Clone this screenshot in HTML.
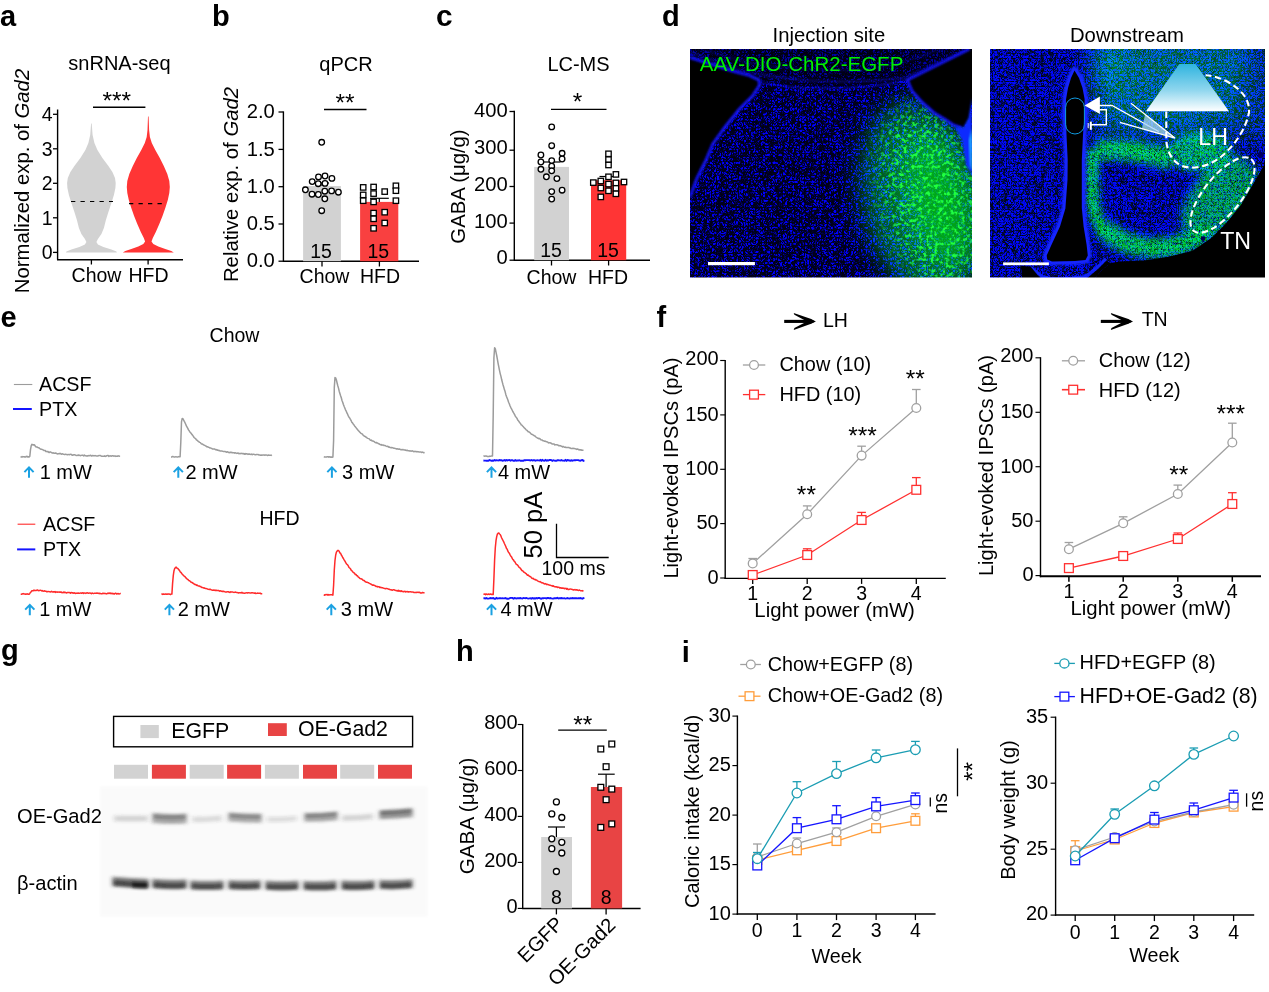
<!DOCTYPE html>
<html><head><meta charset="utf-8"><title>Figure</title>
<style>
html,body{margin:0;padding:0;background:#fff;}
svg{display:block;font-family:'Liberation Sans', sans-serif;}
</style></head><body>
<svg width="1269" height="992" viewBox="0 0 1269 992">
<defs>

<clipPath id="clipL"><rect x="690" y="49" width="282" height="228.6"/></clipPath>
<clipPath id="clipR"><rect x="990" y="49" width="275" height="228.6"/></clipPath>
<filter id="nzL" filterUnits="userSpaceOnUse" x="690" y="49" width="282" height="228.6" color-interpolation-filters="sRGB">
 <feTurbulence type="turbulence" baseFrequency="0.41 0.37" numOctaves="2" seed="7"/>
 <feColorMatrix type="matrix" values="0 0 0 0 0  0 0 0 0 0  1 0 0 0 0  0 0 0 0 1"/>
 <feComponentTransfer><feFuncB type="table" tableValues="0.06 0.09 0.13 0.36 0.8 1 1 1 1 1 1"/></feComponentTransfer>
</filter>
<filter id="nzR" filterUnits="userSpaceOnUse" x="990" y="49" width="275" height="228.6" color-interpolation-filters="sRGB">
 <feTurbulence type="turbulence" baseFrequency="0.43 0.39" numOctaves="2" seed="11"/>
 <feColorMatrix type="matrix" values="0 0 0 0 0  0 0.12 0 0 0  1 0 0 0 0  0 0 0 0 1"/>
 <feComponentTransfer><feFuncB type="table" tableValues="0.06 0.14 0.36 0.8 1 1 1 1 1 1 1"/></feComponentTransfer>
</filter>
<filter id="gspotL" filterUnits="userSpaceOnUse" x="690" y="49" width="282" height="228.6" color-interpolation-filters="sRGB">
 <feTurbulence type="fractalNoise" baseFrequency="0.26" numOctaves="2" seed="5"/>
 <feColorMatrix type="matrix" values="0 0 0 0 0.12  0 0 0 0 1  0 0 0 0 0.25  1 0 0 0 0"/>
 <feComponentTransfer result="sp"><feFuncA type="table" tableValues="0 0 0 0 0 0.02 0.45 1 1 1 1"/></feComponentTransfer>
 <feGaussianBlur in="SourceAlpha" stdDeviation="12" result="m"/>
 <feComposite in="sp" in2="m" operator="in"/>
</filter>
<filter id="gnzR" filterUnits="userSpaceOnUse" x="990" y="49" width="275" height="228.6" color-interpolation-filters="sRGB">
 <feTurbulence type="turbulence" baseFrequency="0.42" numOctaves="2" seed="21"/>
 <feColorMatrix type="matrix" values="0 0 0 0 0  0 0 0 0 0.9  0 0 0 0 0.08  1 0 0 0 0"/>
 <feComponentTransfer result="sp"><feFuncA type="table" tableValues="0.22 0.45 0.85 1 1 1 1 1 1 1 1"/></feComponentTransfer>
 <feGaussianBlur in="SourceAlpha" stdDeviation="4.5" result="m"/>
 <feComposite in="sp" in2="m" operator="in"/>
</filter>
<filter id="gnzR2" filterUnits="userSpaceOnUse" x="990" y="49" width="275" height="228.6" color-interpolation-filters="sRGB">
 <feTurbulence type="turbulence" baseFrequency="0.42" numOctaves="2" seed="33"/>
 <feColorMatrix type="matrix" values="0 0 0 0 0  0 0 0 0 0.9  0 0 0 0 0.08  1 0 0 0 0"/>
 <feComponentTransfer result="sp"><feFuncA type="table" tableValues="0.22 0.45 0.85 1 1 1 1 1 1 1 1"/></feComponentTransfer>
 <feGaussianBlur in="SourceAlpha" stdDeviation="11" result="m"/>
 <feComposite in="sp" in2="m" operator="in"/>
</filter>
<filter id="bl3" x="-20%" y="-20%" width="140%" height="140%"><feGaussianBlur stdDeviation="3"/></filter>
<filter id="bl6" x="-30%" y="-30%" width="160%" height="160%"><feGaussianBlur stdDeviation="7"/></filter>
<filter id="bl12" x="-40%" y="-40%" width="180%" height="180%"><feGaussianBlur stdDeviation="13"/></filter>
<filter id="bl1" x="-20%" y="-20%" width="140%" height="140%"><feGaussianBlur stdDeviation="0.8"/></filter>
<linearGradient id="cone" x1="0" y1="0" x2="0" y2="1"><stop offset="0" stop-color="#2fb4df"/><stop offset="0.55" stop-color="#8fd6ee"/><stop offset="1" stop-color="#ffffff"/></linearGradient>

<filter id="bblur" x="-10%" y="-50%" width="120%" height="200%"><feGaussianBlur stdDeviation="1.6 1.5"/></filter>
<filter id="bblur2" x="-10%" y="-50%" width="120%" height="200%"><feGaussianBlur stdDeviation="2.2 1.8"/></filter>
<filter id="bgblur" x="-5%" y="-5%" width="110%" height="110%"><feGaussianBlur stdDeviation="1.2"/></filter>

</defs>
<rect width="1269" height="992" fill="#fff"/>
<text x="0.0" y="26.0" font-size="29" font-weight="bold">a</text>
<text x="212.0" y="26.0" font-size="29" font-weight="bold">b</text>
<text x="436.0" y="26.2" font-size="29.8" font-weight="bold">c</text>
<text x="119.5" y="70.0" font-size="20" text-anchor="middle">snRNA-seq</text>
<text x="116.8" y="108.5" font-size="24.5" text-anchor="middle">***</text>
<line x1="93.0" y1="107.2" x2="145.4" y2="107.2" stroke="#000" stroke-width="1.5"/>
<line x1="57.6" y1="109.5" x2="57.6" y2="259.6" stroke="#000" stroke-width="1.4"/>
<line x1="57.0" y1="259.8" x2="183.0" y2="259.8" stroke="#000" stroke-width="1.4"/>
<line x1="53.0" y1="114.3" x2="57.6" y2="114.3" stroke="#000" stroke-width="1.3"/>
<text x="52.5" y="121.3" font-size="19.5" text-anchor="end">4</text>
<line x1="53.0" y1="148.8" x2="57.6" y2="148.8" stroke="#000" stroke-width="1.3"/>
<text x="52.5" y="155.8" font-size="19.5" text-anchor="end">3</text>
<line x1="53.0" y1="183.3" x2="57.6" y2="183.3" stroke="#000" stroke-width="1.3"/>
<text x="52.5" y="190.3" font-size="19.5" text-anchor="end">2</text>
<line x1="53.0" y1="217.8" x2="57.6" y2="217.8" stroke="#000" stroke-width="1.3"/>
<text x="52.5" y="224.8" font-size="19.5" text-anchor="end">1</text>
<line x1="53.0" y1="252.4" x2="57.6" y2="252.4" stroke="#000" stroke-width="1.3"/>
<text x="52.5" y="259.4" font-size="19.5" text-anchor="end">0</text>
<line x1="91.4" y1="259.8" x2="91.4" y2="264.5" stroke="#000" stroke-width="1.3"/>
<line x1="148.1" y1="259.8" x2="148.1" y2="264.5" stroke="#000" stroke-width="1.3"/>
<text x="96.5" y="281.5" font-size="19.5" text-anchor="middle">Chow</text>
<text x="148.5" y="281.5" font-size="19.5" text-anchor="middle">HFD</text>
<text x="29.0" y="181.0" font-size="20.3" text-anchor="middle" transform="rotate(-90 29.0 181.0)">Normalized exp. of <tspan font-style="italic">Gad2</tspan></text>
<path d="M91.1,123.5 L90.2,135.0 L88.4,143.0 L85.4,150.0 L80.4,158.0 L74.4,166.0 L70.4,172.0 L67.8,178.0 L67.1,183.0 L67.4,188.0 L68.9,195.0 L71.4,203.0 L74.4,212.0 L76.9,220.0 L78.9,228.0 L81.4,234.0 L84.9,239.0 L86.4,242.0 L84.9,244.5 L79.4,247.0 L71.4,249.5 L66.4,251.5 L65.9,252.5 L116.9,252.5 L116.4,251.5 L111.4,249.5 L103.4,247.0 L97.9,244.5 L96.4,242.0 L97.9,239.0 L101.4,234.0 L103.9,228.0 L105.9,220.0 L108.4,212.0 L111.4,203.0 L113.9,195.0 L115.4,188.0 L115.7,183.0 L115.0,178.0 L112.4,172.0 L108.4,166.0 L102.4,158.0 L97.4,150.0 L94.4,143.0 L92.6,135.0 L91.7,123.5Z" fill="#d2d2d2"/>
<path d="M148.0,116.5 L147.5,130.0 L146.7,137.0 L144.8,143.0 L141.3,150.0 L136.8,158.0 L132.8,166.0 L129.3,174.0 L127.3,181.0 L126.8,187.0 L127.3,193.0 L128.8,200.0 L131.3,208.0 L134.1,216.0 L137.3,224.0 L140.8,232.0 L143.8,238.0 L145.1,241.5 L143.3,244.0 L138.3,246.5 L131.3,249.0 L125.3,251.0 L122.8,252.5 L173.8,252.5 L171.3,251.0 L165.3,249.0 L158.3,246.5 L153.3,244.0 L151.5,241.5 L152.8,238.0 L155.8,232.0 L159.3,224.0 L162.5,216.0 L165.3,208.0 L167.8,200.0 L169.3,193.0 L169.8,187.0 L169.3,181.0 L167.3,174.0 L163.8,166.0 L159.8,158.0 L155.3,150.0 L151.8,143.0 L149.9,137.0 L149.1,130.0 L148.6,116.5Z" fill="#ff3535"/>
<line x1="71.0" y1="201.5" x2="113.0" y2="201.5" stroke="#000" stroke-width="1.1" stroke-dasharray="4.3 5.2"/>
<line x1="129.0" y1="203.6" x2="166.0" y2="203.6" stroke="#000" stroke-width="1.1" stroke-dasharray="4.3 5.2"/>
<text x="346.0" y="71.0" font-size="20" text-anchor="middle">qPCR</text>
<text x="345.0" y="110.5" font-size="24.5" text-anchor="middle">**</text>
<line x1="324.0" y1="109.5" x2="366.5" y2="109.5" stroke="#000" stroke-width="1.3"/>
<line x1="283.4" y1="111.4" x2="283.4" y2="261.8" stroke="#000" stroke-width="1.4"/>
<line x1="283.0" y1="261.2" x2="419.0" y2="261.2" stroke="#000" stroke-width="1.5"/>
<line x1="278.5" y1="112.0" x2="283.4" y2="112.0" stroke="#000" stroke-width="1.3"/>
<text x="274.8" y="118.1" font-size="20.2" text-anchor="end">2.0</text>
<line x1="278.5" y1="149.4" x2="283.4" y2="149.4" stroke="#000" stroke-width="1.3"/>
<text x="274.8" y="155.5" font-size="20.2" text-anchor="end">1.5</text>
<line x1="278.5" y1="186.7" x2="283.4" y2="186.7" stroke="#000" stroke-width="1.3"/>
<text x="274.8" y="192.8" font-size="20.2" text-anchor="end">1.0</text>
<line x1="278.5" y1="224.0" x2="283.4" y2="224.0" stroke="#000" stroke-width="1.3"/>
<text x="274.8" y="230.1" font-size="20.2" text-anchor="end">0.5</text>
<line x1="278.5" y1="261.2" x2="283.4" y2="261.2" stroke="#000" stroke-width="1.3"/>
<text x="274.8" y="267.3" font-size="20.2" text-anchor="end">0.0</text>
<rect x="303.1" y="186.0" width="37.8" height="75.2" fill="#d2d2d2"/>
<rect x="360.1" y="201.9" width="38.2" height="59.3" fill="#f94040"/>
<line x1="322.0" y1="261.2" x2="322.0" y2="266.5" stroke="#000" stroke-width="1.3"/>
<line x1="379.4" y1="261.2" x2="379.4" y2="266.5" stroke="#000" stroke-width="1.3"/>
<text x="321.0" y="258.1" font-size="19.5" text-anchor="middle">15</text>
<text x="378.3" y="258.1" font-size="19.5" text-anchor="middle">15</text>
<text x="324.5" y="283.0" font-size="19.5" text-anchor="middle">Chow</text>
<text x="380.0" y="283.0" font-size="19.5" text-anchor="middle">HFD</text>
<text x="238.0" y="184.5" font-size="20.3" text-anchor="middle" transform="rotate(-90 238.0 184.5)">Relative exp. of <tspan font-style="italic">Gad2</tspan></text>
<line x1="315.0" y1="183.0" x2="329.0" y2="183.0" stroke="#000" stroke-width="1.2"/>
<line x1="322.0" y1="183.0" x2="322.0" y2="186.0" stroke="#000" stroke-width="1.2"/>
<line x1="370.0" y1="198.3" x2="388.8" y2="198.3" stroke="#000" stroke-width="1.2"/>
<line x1="379.3" y1="198.3" x2="379.3" y2="202.0" stroke="#000" stroke-width="1.2"/>
<circle cx="321.7" cy="142.3" r="2.8" fill="#fff" stroke="#000" stroke-width="1.3"/>
<circle cx="318.5" cy="176.9" r="2.8" fill="#fff" stroke="#000" stroke-width="1.3"/>
<circle cx="325.0" cy="176.0" r="2.8" fill="#fff" stroke="#000" stroke-width="1.3"/>
<circle cx="331.9" cy="178.4" r="2.8" fill="#fff" stroke="#000" stroke-width="1.3"/>
<circle cx="312.2" cy="181.6" r="2.8" fill="#fff" stroke="#000" stroke-width="1.3"/>
<circle cx="318.2" cy="183.7" r="2.8" fill="#fff" stroke="#000" stroke-width="1.3"/>
<circle cx="325.0" cy="183.4" r="2.8" fill="#fff" stroke="#000" stroke-width="1.3"/>
<circle cx="305.4" cy="189.8" r="2.8" fill="#fff" stroke="#000" stroke-width="1.3"/>
<circle cx="312.0" cy="194.2" r="2.8" fill="#fff" stroke="#000" stroke-width="1.3"/>
<circle cx="318.3" cy="194.5" r="2.8" fill="#fff" stroke="#000" stroke-width="1.3"/>
<circle cx="324.8" cy="191.2" r="2.8" fill="#fff" stroke="#000" stroke-width="1.3"/>
<circle cx="331.6" cy="190.9" r="2.8" fill="#fff" stroke="#000" stroke-width="1.3"/>
<circle cx="338.4" cy="192.2" r="2.8" fill="#fff" stroke="#000" stroke-width="1.3"/>
<circle cx="324.8" cy="198.8" r="2.8" fill="#fff" stroke="#000" stroke-width="1.3"/>
<circle cx="321.7" cy="210.7" r="2.8" fill="#fff" stroke="#000" stroke-width="1.3"/>
<rect x="360.5" y="184.7" width="5.4" height="5.4" fill="#fff" stroke="#000" stroke-width="1.3"/>
<rect x="370.9" y="184.3" width="5.4" height="5.4" fill="#fff" stroke="#000" stroke-width="1.3"/>
<rect x="393.2" y="183.1" width="5.4" height="5.4" fill="#fff" stroke="#000" stroke-width="1.3"/>
<rect x="382.0" y="188.9" width="5.4" height="5.4" fill="#fff" stroke="#000" stroke-width="1.3"/>
<rect x="360.5" y="192.2" width="5.4" height="5.4" fill="#fff" stroke="#000" stroke-width="1.3"/>
<rect x="370.9" y="190.9" width="5.4" height="5.4" fill="#fff" stroke="#000" stroke-width="1.3"/>
<rect x="393.2" y="188.0" width="5.4" height="5.4" fill="#fff" stroke="#000" stroke-width="1.3"/>
<rect x="360.5" y="198.0" width="5.4" height="5.4" fill="#fff" stroke="#000" stroke-width="1.3"/>
<rect x="370.9" y="199.2" width="5.4" height="5.4" fill="#fff" stroke="#000" stroke-width="1.3"/>
<rect x="393.2" y="198.0" width="5.4" height="5.4" fill="#fff" stroke="#000" stroke-width="1.3"/>
<rect x="370.9" y="210.4" width="5.4" height="5.4" fill="#fff" stroke="#000" stroke-width="1.3"/>
<rect x="382.0" y="209.5" width="5.4" height="5.4" fill="#fff" stroke="#000" stroke-width="1.3"/>
<rect x="370.9" y="216.1" width="5.4" height="5.4" fill="#fff" stroke="#000" stroke-width="1.3"/>
<rect x="382.0" y="220.3" width="5.4" height="5.4" fill="#fff" stroke="#000" stroke-width="1.3"/>
<rect x="370.9" y="225.6" width="5.4" height="5.4" fill="#fff" stroke="#000" stroke-width="1.3"/>
<text x="578.5" y="71.3" font-size="20" text-anchor="middle">LC-MS</text>
<text x="577.5" y="109.5" font-size="24.5" text-anchor="middle">*</text>
<line x1="551.0" y1="109.4" x2="606.5" y2="109.4" stroke="#000" stroke-width="1.3"/>
<line x1="514.3" y1="110.7" x2="514.3" y2="260.8" stroke="#000" stroke-width="1.4"/>
<line x1="514.0" y1="260.2" x2="650.0" y2="260.2" stroke="#000" stroke-width="1.5"/>
<line x1="509.5" y1="111.5" x2="514.3" y2="111.5" stroke="#000" stroke-width="1.3"/>
<text x="507.8" y="117.3" font-size="20.2" text-anchor="end">400</text>
<line x1="509.5" y1="150.2" x2="514.3" y2="150.2" stroke="#000" stroke-width="1.3"/>
<text x="507.8" y="153.8" font-size="20.2" text-anchor="end">300</text>
<line x1="509.5" y1="186.5" x2="514.3" y2="186.5" stroke="#000" stroke-width="1.3"/>
<text x="507.8" y="190.7" font-size="20.2" text-anchor="end">200</text>
<line x1="509.5" y1="223.1" x2="514.3" y2="223.1" stroke="#000" stroke-width="1.3"/>
<text x="507.8" y="228.0" font-size="20.2" text-anchor="end">100</text>
<line x1="509.5" y1="260.2" x2="514.3" y2="260.2" stroke="#000" stroke-width="1.3"/>
<text x="507.8" y="263.5" font-size="20.2" text-anchor="end">0</text>
<rect x="534.2" y="166.9" width="34.8" height="93.3" fill="#d2d2d2"/>
<rect x="591.0" y="180.2" width="35.2" height="80.0" fill="#ff3535"/>
<line x1="551.5" y1="260.2" x2="551.5" y2="265.5" stroke="#000" stroke-width="1.3"/>
<line x1="608.6" y1="260.2" x2="608.6" y2="265.5" stroke="#000" stroke-width="1.3"/>
<text x="551.0" y="257.0" font-size="19.5" text-anchor="middle">15</text>
<text x="608.0" y="257.0" font-size="19.5" text-anchor="middle">15</text>
<text x="551.5" y="283.5" font-size="19.5" text-anchor="middle">Chow</text>
<text x="608.0" y="283.5" font-size="19.5" text-anchor="middle">HFD</text>
<text x="464.7" y="186.5" font-size="20.3" text-anchor="middle" transform="rotate(-90 464.7 186.5)">GABA (μg/g)</text>
<line x1="543.6" y1="162.0" x2="560.5" y2="162.0" stroke="#000" stroke-width="1.2"/>
<line x1="551.7" y1="162.0" x2="551.7" y2="167.0" stroke="#000" stroke-width="1.2"/>
<circle cx="551.7" cy="126.9" r="2.8" fill="#fff" stroke="#000" stroke-width="1.3"/>
<circle cx="551.7" cy="145.7" r="2.8" fill="#fff" stroke="#000" stroke-width="1.3"/>
<circle cx="540.9" cy="155.0" r="2.8" fill="#fff" stroke="#000" stroke-width="1.3"/>
<circle cx="562.1" cy="153.3" r="2.8" fill="#fff" stroke="#000" stroke-width="1.3"/>
<circle cx="562.1" cy="159.0" r="2.8" fill="#fff" stroke="#000" stroke-width="1.3"/>
<circle cx="540.9" cy="162.0" r="2.8" fill="#fff" stroke="#000" stroke-width="1.3"/>
<circle cx="551.7" cy="160.6" r="2.8" fill="#fff" stroke="#000" stroke-width="1.3"/>
<circle cx="551.7" cy="166.2" r="2.8" fill="#fff" stroke="#000" stroke-width="1.3"/>
<circle cx="540.9" cy="169.3" r="2.8" fill="#fff" stroke="#000" stroke-width="1.3"/>
<circle cx="551.7" cy="170.8" r="2.8" fill="#fff" stroke="#000" stroke-width="1.3"/>
<circle cx="546.4" cy="176.8" r="2.8" fill="#fff" stroke="#000" stroke-width="1.3"/>
<circle cx="556.9" cy="178.6" r="2.8" fill="#fff" stroke="#000" stroke-width="1.3"/>
<circle cx="551.7" cy="191.6" r="2.8" fill="#fff" stroke="#000" stroke-width="1.3"/>
<circle cx="562.1" cy="190.2" r="2.8" fill="#fff" stroke="#000" stroke-width="1.3"/>
<circle cx="551.7" cy="199.1" r="2.8" fill="#fff" stroke="#000" stroke-width="1.3"/>
<line x1="599.5" y1="176.5" x2="617.0" y2="176.5" stroke="#000" stroke-width="1.2"/>
<line x1="608.5" y1="176.5" x2="608.5" y2="180.0" stroke="#000" stroke-width="1.2"/>
<rect x="605.8" y="151.1" width="5.4" height="5.4" fill="#fff" stroke="#000" stroke-width="1.3"/>
<rect x="605.8" y="156.9" width="5.4" height="5.4" fill="#fff" stroke="#000" stroke-width="1.3"/>
<rect x="605.8" y="162.3" width="5.4" height="5.4" fill="#fff" stroke="#000" stroke-width="1.3"/>
<rect x="613.2" y="171.7" width="5.4" height="5.4" fill="#fff" stroke="#000" stroke-width="1.3"/>
<rect x="605.8" y="174.1" width="5.4" height="5.4" fill="#fff" stroke="#000" stroke-width="1.3"/>
<rect x="590.6" y="179.9" width="5.4" height="5.4" fill="#fff" stroke="#000" stroke-width="1.3"/>
<rect x="598.1" y="178.3" width="5.4" height="5.4" fill="#fff" stroke="#000" stroke-width="1.3"/>
<rect x="605.8" y="181.4" width="5.4" height="5.4" fill="#fff" stroke="#000" stroke-width="1.3"/>
<rect x="613.2" y="180.2" width="5.4" height="5.4" fill="#fff" stroke="#000" stroke-width="1.3"/>
<rect x="621.3" y="179.3" width="5.4" height="5.4" fill="#fff" stroke="#000" stroke-width="1.3"/>
<rect x="598.1" y="185.3" width="5.4" height="5.4" fill="#fff" stroke="#000" stroke-width="1.3"/>
<rect x="605.8" y="188.1" width="5.4" height="5.4" fill="#fff" stroke="#000" stroke-width="1.3"/>
<rect x="613.2" y="185.7" width="5.4" height="5.4" fill="#fff" stroke="#000" stroke-width="1.3"/>
<rect x="613.2" y="191.1" width="5.4" height="5.4" fill="#fff" stroke="#000" stroke-width="1.3"/>
<rect x="598.1" y="194.2" width="5.4" height="5.4" fill="#fff" stroke="#000" stroke-width="1.3"/>
<text x="662.0" y="26.0" font-size="29" font-weight="bold">d</text>
<text x="828.9" y="41.5" font-size="20.3" text-anchor="middle">Injection site</text>
<text x="1126.9" y="41.5" font-size="20.3" text-anchor="middle">Downstream</text>
<g clip-path="url(#clipL)" style="isolation:isolate">
<rect x="690.0" y="49.0" width="282.0" height="228.6" fill="#000"/>
<rect x="690.0" y="49.0" width="282.0" height="228.6" fill="#000" filter="url(#nzL)"/>
<path d="M690,52 L733,68 Q760,76 800,80 Q850,84 905,78 L968,49" fill="none" stroke="#1a1aff" stroke-width="2.2" opacity="0.55" filter="url(#bl1)"/>
<path d="M700,49 L745,62 Q800,72 860,70 Q900,66 940,49" fill="none" stroke="#1a1aff" stroke-width="2" opacity="0.35" filter="url(#bl1)"/>
<path d="M759,82 Q800,90 835,88 Q875,88 907,80" fill="none" stroke="#1010e0" stroke-width="2" opacity="0.5" filter="url(#bl1)"/>
<path d="M690,49 L972,49 L972,49 L907,80 Q835,92 759,82 L690,57 Z" fill="#000" opacity="0.35"/>
<ellipse cx="942" cy="204" rx="22" ry="60" fill="#002a00" opacity="0.8" filter="url(#bl12)" transform="rotate(-13 942 204)"/>
<g style="mix-blend-mode:screen">
<ellipse cx="925" cy="200" rx="62" ry="100" fill="#007008" opacity="0.85" filter="url(#bl12)" transform="rotate(-12 925 200)"/>
<ellipse cx="936" cy="200" rx="32" ry="70" fill="#00b016" opacity="0.75" filter="url(#bl12)" transform="rotate(-14 936 200)"/>
</g>
<g filter="url(#gspotL)"><ellipse cx="930" cy="198" rx="48" ry="92" fill="#fff" transform="rotate(-13 930 198)"/></g>
<path d="M690,57.5 L733.4,71.3 L748,75 L758.8,79.8 L759.6,85 L752.7,95.8 L739.4,109 L725,127 L712.8,144 L705.6,161 L697,178 L689,199 L680,199 L680,57 Z" fill="#000"/>
<path d="M690,57.5 L733.4,71.3 L748,75 L758.8,79.8 L759.6,85 L752.7,95.8 L739.4,109 L725,127 L712.8,144 L705.6,161 L697,178 L690,197" fill="none" stroke="#1414ff" stroke-width="3" opacity="0.95" filter="url(#bl1)"/>
<path d="M969.5,49 L980,49 L980,100 L972,100 L969,117.6 L964,127 L953,124.8 L946,120 L933.9,112.7 L921.8,101.9 L912,91 L907.3,80 Z" fill="#000"/>
<path d="M969.5,49 L907.3,80 L912,91 L921.8,101.9 L933.9,112.7 L946,120 L953,124.8 L962,128" fill="none" stroke="#1414ff" stroke-width="3" opacity="0.95" filter="url(#bl1)"/>
<path d="M972,98 L968.5,118 L963,128 L955,127 L962,140 L966,165 L972,175 Z" fill="#0a2cff" filter="url(#bl1)"/>
<path d="M972,128 L969,140 L970,165 L972,170 Z" fill="#20b0ff" filter="url(#bl1)"/>
</g>
<text x="699.8" y="70.8" font-size="20.5" fill="#00f000">AAV-DIO-ChR2-EGFP</text>
<rect x="708.0" y="262.0" width="46.9" height="3.2" fill="#fff"/>
<g clip-path="url(#clipR)" style="isolation:isolate">
<rect x="990.0" y="49.0" width="275.0" height="228.6" fill="#000"/>
<rect x="990.0" y="49.0" width="275.0" height="228.6" fill="#000" filter="url(#nzR)"/>
<g opacity="0.42" filter="url(#bl3)" fill="#000" stroke="#000">
<path d="M1091.5,150 L1092.5,198 Q1094,222 1108,234" stroke-width="10" fill="none"/>
<path d="M1097,150 Q1130,147 1172,160 M1104,228 Q1116,242 1142,247 Q1168,251 1192,241 L1206,234" stroke-width="17" fill="none"/>
<ellipse cx="1218" cy="198" rx="46" ry="24" transform="rotate(-51.5 1218 198)" stroke="none" opacity="0.8"/>
<ellipse cx="1200" cy="152" rx="28" ry="16" stroke="none" opacity="0.7"/>
</g>
<g style="mix-blend-mode:screen"><rect x="1095" y="40" width="180" height="100" filter="url(#bl12)" fill="#004a06" opacity="0.7"/></g>
<g style="mix-blend-mode:screen"><g filter="url(#gnzR)">
<path d="M1091.5,150 L1092.5,198 Q1094,222 1108,234" stroke-width="12" fill="none" stroke="#fff"/>
<path d="M1097,150 Q1130,147 1172,160 M1104,228 Q1116,242 1142,247 Q1168,251 1192,241 L1206,234" stroke-width="20" fill="none" stroke="#fff" opacity="0.9"/>
<ellipse cx="1218" cy="198" rx="48" ry="27" transform="rotate(-51.5 1218 198)" fill="#fff" opacity="0.72"/>
<path d="M1262,170 L1250,192 L1236,212 L1220,230 L1205,240" fill="none" stroke="#fff" stroke-width="7" opacity="0.5"/>
<ellipse cx="1200" cy="152" rx="32" ry="20" fill="#fff" opacity="0.8"/>
</g></g>
<g style="mix-blend-mode:screen"><g filter="url(#gnzR2)"><path d="M1092,30 L1250,30 L1235,120 L1170,135 L1098,128 Z" fill="#fff" opacity="0.3"/><ellipse cx="1108" cy="66" rx="14" ry="30" fill="#fff" opacity="0.3"/></g></g>
<path d="M1074.5,70.5 L1079,78 L1082.5,88 L1084.6,99 L1084.4,115 L1083,135 L1081.8,160 L1081.8,208 L1083.6,226.5 L1086.6,244.7 L1087.8,255.6 L1085.5,260 L1075,261 L1052,261.6 L1047.2,259.5 L1046.7,255.6 L1051.5,244.7 L1060,226.5 L1065.4,208.4 L1067.5,180 L1067.7,160 L1066.5,135 L1065.8,115 L1066,99.4 L1068,88 L1071,78 Z" fill="#000" stroke="#1228ff" stroke-width="7.5" stroke-linejoin="round" filter="url(#bl1)"/>
<path d="M1074.5,70.5 L1079,78 L1082.5,88 L1084.6,99 L1084.4,115 L1083,135 L1081.8,160 L1081.8,208 L1083.6,226.5 L1086.6,244.7 L1087.8,255.6 L1085.5,260 L1075,261 L1052,261.6 L1047.2,259.5 L1046.7,255.6 L1051.5,244.7 L1060,226.5 L1065.4,208.4 L1067.5,180 L1067.7,160 L1066.5,135 L1065.8,115 L1066,99.4 L1068,88 L1071,78 Z" fill="#000"/>
<path d="M1275,150 L1265,163.6 L1253,184.2 L1241,204.8 L1226.4,222.9 L1212,237.4 L1192.6,250.7 L1168.4,256.8 L1144.2,260.4 L1120,261.5 L1110.8,263 L1102,270 L1094,279 L1275,279 Z" fill="#000"/>
<path d="M1106,258.6 Q1096,270 1085,276.5 Q1060,281 1043,277 Q1036,272 1031,267.5" fill="none" stroke="#1428ff" stroke-width="3.2" opacity="0.9"/>
<path d="M1021,265.5 L1031,267 L1040,278 L1022,278 Z" fill="#000"/>
<path d="M1094,279 L1102,270 L1110.8,263 L1106,261 Q1096,272 1086,279 Z" fill="#000"/>
<circle cx="1260.7" cy="155" r="3" fill="#000060"/><circle cx="1203" cy="238.6" r="2.4" fill="#000050"/>
<rect x="1065.6" y="98" width="18.8" height="36" rx="9.4" fill="none" stroke="#109ae0" stroke-width="1"/>
<path d="M1084.6,105.5 L1099.9,96.4 L1099.9,114 Z" fill="#fff"/>
<path d="M1099,105.5 L1112,105.5 L1158.7,131.5" fill="none" stroke="#fff" stroke-width="1.3"/>
<path d="M1099.5,109.7 H1106.3 V124.8 H1090.8" fill="none" stroke="#fff" stroke-width="1.4"/>
<line x1="1090.8" y1="121.6" x2="1090.8" y2="129.8" stroke="#fff" stroke-width="2"/>
<line x1="1088.2" y1="123.0" x2="1088.2" y2="128.2" stroke="#fff" stroke-width="1"/>
<path d="M1145,114.4 L1175,138.1 L1142,128.7 Z" fill="#a8d4f4" opacity="0.75"/>
<path d="M1130.9,103.3 L1175,138.1 L1119.9,122.4" fill="none" stroke="#fff" stroke-width="1.3" stroke-linejoin="miter"/>
<path d="M1179.3,64.1 L1195.6,64.1 L1228.9,111.3 L1146,111.3 Z" fill="url(#cone)"/>
<path d="M1166.3,111.5 L1166.3,138.8 C1166.5,150 1171,160 1180,165 C1192,171 1210,166 1222,156 C1236,144 1246,128 1249,112.5 C1250,100 1242,90 1228,82 C1220,78 1212,75.5 1205.6,75.2" fill="none" stroke="#fff" stroke-width="2.1" stroke-dasharray="6.5 3.6"/>
<ellipse cx="1222.5" cy="195" rx="46" ry="18.5" transform="rotate(-51.5 1222.5 195)" fill="none" stroke="#fff" stroke-width="2.1" stroke-dasharray="6.5 3.6"/>
</g>
<text x="1198.3" y="145.4" font-size="23.2" fill="#fff">LH</text>
<text x="1220.2" y="248.7" font-size="23.2" fill="#fff">TN</text>
<rect x="1003.1" y="262.4" width="45.8" height="2.8" fill="#fff"/>
<text x="0.5" y="327.0" font-size="29" font-weight="bold">e</text>
<text x="234.5" y="341.8" font-size="19.5" text-anchor="middle">Chow</text>
<text x="279.5" y="524.5" font-size="19.5" text-anchor="middle">HFD</text>
<line x1="13.9" y1="384.5" x2="32.3" y2="384.5" stroke="#9c9c9c" stroke-width="1.1"/>
<text x="39.0" y="391.0" font-size="19.7">ACSF</text>
<line x1="13.0" y1="409.0" x2="31.8" y2="409.0" stroke="#1414ff" stroke-width="2"/>
<text x="39.0" y="416.0" font-size="19.7">PTX</text>
<line x1="17.6" y1="524.2" x2="35.3" y2="524.2" stroke="#ff2b2b" stroke-width="1.1"/>
<text x="42.9" y="531.2" font-size="19.7">ACSF</text>
<line x1="17.1" y1="549.4" x2="35.3" y2="549.4" stroke="#1414ff" stroke-width="2"/>
<text x="42.9" y="556.0" font-size="19.7">PTX</text>
<polyline points="20.7,456.4 21.4,457.1 22.1,457.1 22.8,456.6 23.5,456.8 24.2,456.7 24.9,457.0 25.6,457.1 26.3,456.4 27.0,456.3 27.7,457.1 28.4,456.7 29.1,457.1 29.8,456.3 30.5,449.7 31.2,445.9 31.9,444.2 32.6,444.8 33.3,445.1 34.0,444.7 34.7,445.2 35.4,446.2 36.1,447.0 36.8,446.9 37.5,447.2 38.2,447.8 38.9,447.8 39.6,448.4 40.3,448.9 41.0,449.3 41.7,449.3 42.4,449.6 43.1,449.9 43.8,450.4 44.5,450.5 45.2,450.4 45.9,451.5 46.6,451.4 47.3,451.7 48.0,451.4 48.7,452.4 49.4,452.4 50.1,451.8 50.8,452.2 51.5,452.7 52.2,452.8 52.9,453.2 53.6,452.8 54.3,453.3 55.0,453.3 55.7,453.0 56.4,453.4 57.1,453.8 57.8,453.9 58.5,453.6 59.2,453.8 59.9,453.3 60.6,453.6 61.3,454.2 62.0,453.9 62.7,453.8 63.4,454.2 64.1,454.4 64.8,454.5 65.5,454.2 66.2,454.4 66.9,454.5 67.6,454.8 68.3,454.6 69.0,454.5 69.7,454.7 70.4,454.3 71.1,454.3 71.8,455.0 72.5,455.3 73.2,455.0 73.9,454.8 74.6,454.7 75.3,455.0 76.0,455.5 76.7,455.4 77.4,455.2 78.1,455.5 78.8,454.9 79.5,455.3 80.2,455.7 80.9,455.4 81.6,455.3 82.3,455.1 83.0,455.4 83.7,455.9 84.4,455.0 85.1,455.8 85.8,455.8 86.5,455.9 87.2,455.8 87.9,455.9 88.6,455.6 89.3,455.7 90.0,455.6 90.7,455.2 91.4,456.1 92.1,455.8 92.8,455.4 93.5,455.8 94.2,455.8 94.9,455.6 95.6,455.7 96.3,455.9 97.0,456.0 97.7,456.0 98.4,455.8 99.1,455.4 99.8,455.6 100.5,455.6 101.2,456.0 101.9,456.3 102.6,456.3 103.3,456.3 104.0,456.3 104.7,455.8 105.4,456.4 106.1,456.2 106.8,455.7 107.5,455.6 108.2,455.6 108.9,456.4 109.6,455.9 110.3,455.7 111.0,456.3 111.7,456.0 112.4,455.7 113.1,455.8 113.8,456.2 114.5,455.9 115.2,456.0 115.9,456.4 116.6,456.2 117.3,456.1 118.0,456.2 118.7,455.8 119.4,456.2 120.1,456.2" fill="none" stroke="#9c9c9c" stroke-width="1.5" stroke-linejoin="round"/>
<polyline points="171.0,457.1 171.7,457.1 172.4,456.5 173.1,456.5 173.8,457.0 174.5,457.0 175.2,456.9 175.9,456.7 176.6,456.9 177.3,456.9 178.0,456.9 178.7,456.6 179.4,456.8 180.1,456.7 180.8,442.3 181.5,421.8 182.2,418.4 182.9,418.6 183.6,420.0 184.3,421.4 185.0,422.7 185.7,424.2 186.4,425.9 187.1,427.1 187.8,428.4 188.5,429.9 189.2,430.8 189.9,431.9 190.6,432.7 191.3,433.5 192.0,434.6 192.7,435.3 193.4,436.4 194.1,437.5 194.8,438.1 195.5,438.4 196.2,439.6 196.9,440.2 197.6,440.7 198.3,441.4 199.0,441.9 199.7,442.4 200.4,442.6 201.1,443.6 201.8,444.0 202.5,443.9 203.2,444.7 203.9,445.1 204.6,445.3 205.3,445.7 206.0,446.0 206.7,446.7 207.4,446.7 208.1,447.2 208.8,447.2 209.5,447.8 210.2,448.1 210.9,448.1 211.6,448.4 212.3,448.9 213.0,449.0 213.7,449.0 214.4,449.0 215.1,449.3 215.8,449.8 216.5,449.6 217.2,450.3 217.9,450.0 218.6,450.6 219.3,450.4 220.0,451.0 220.7,451.0 221.4,451.0 222.1,451.1 222.8,451.3 223.5,451.4 224.2,451.4 224.9,451.4 225.6,451.7 226.3,452.2 227.0,452.0 227.7,451.8 228.4,452.4 229.1,452.4 229.8,452.7 230.5,452.2 231.2,452.7 231.9,452.3 232.6,452.8 233.3,452.7 234.0,452.7 234.7,453.2 235.4,452.8 236.1,453.1 236.8,453.4 237.5,453.1 238.2,453.1 238.9,453.7 239.6,453.4 240.3,453.7 241.0,453.3 241.7,453.6 242.4,453.5 243.1,453.9 243.8,453.5 244.5,454.2 245.2,453.6 245.9,454.2 246.6,453.7 247.3,453.9 248.0,454.4 248.7,454.0 249.4,454.0 250.1,454.4 250.8,454.3 251.5,454.1 252.2,454.8 252.9,454.2 253.6,454.2 254.3,454.4 255.0,454.7 255.7,454.8 256.4,454.4 257.1,454.6 257.8,454.4 258.5,454.7 259.2,455.0 259.9,455.0 260.6,455.2 261.3,455.1 262.0,455.2 262.7,455.1 263.4,455.0 264.1,454.9 264.8,455.2 265.5,455.0 266.2,454.9 266.9,455.1 267.6,455.5 268.3,455.0 269.0,455.3 269.7,455.2 270.4,455.3 271.1,455.1 271.8,455.7" fill="none" stroke="#9c9c9c" stroke-width="1.5" stroke-linejoin="round"/>
<polyline points="323.8,456.8 324.5,457.0 325.2,456.9 325.9,457.1 326.6,457.1 327.3,456.7 328.0,456.7 328.7,457.2 329.4,456.8 330.1,456.8 330.8,457.3 331.5,457.0 332.2,457.2 332.9,457.0 333.6,440.6 334.3,387.2 335.0,377.6 335.7,377.9 336.4,380.0 337.1,383.0 337.8,385.8 338.5,388.1 339.2,391.2 339.9,393.5 340.6,395.7 341.3,397.7 342.0,400.5 342.7,402.2 343.4,404.4 344.1,406.3 344.8,408.0 345.5,409.8 346.2,411.1 346.9,412.9 347.6,414.2 348.3,415.9 349.0,417.2 349.7,418.0 350.4,419.3 351.1,420.5 351.8,422.2 352.5,422.9 353.2,424.0 353.9,424.8 354.6,425.9 355.3,426.7 356.0,427.6 356.7,428.6 357.4,429.4 358.1,430.4 358.8,431.0 359.5,431.9 360.2,432.5 360.9,433.3 361.6,433.7 362.3,433.9 363.0,435.0 363.7,435.7 364.4,436.2 365.1,436.4 365.8,437.1 366.5,437.2 367.2,438.1 367.9,438.4 368.6,438.6 369.3,438.9 370.0,439.8 370.7,440.3 371.4,440.1 372.1,440.9 372.8,441.0 373.5,441.2 374.2,441.6 374.9,442.3 375.6,442.7 376.3,442.4 377.0,443.1 377.7,443.0 378.4,443.7 379.1,443.7 379.8,444.4 380.5,444.7 381.2,444.6 381.9,445.2 382.6,444.9 383.3,445.0 384.0,445.6 384.7,445.4 385.4,445.7 386.1,446.1 386.8,446.4 387.5,446.3 388.2,446.4 388.9,447.2 389.6,447.0 390.3,447.6 391.0,447.7 391.7,447.5 392.4,447.7 393.1,447.9 393.8,448.2 394.5,448.3 395.2,448.4 395.9,448.6 396.6,449.0 397.3,448.8 398.0,448.9 398.7,449.2 399.4,449.0 400.1,449.2 400.8,449.8 401.5,449.6 402.2,449.7 402.9,449.5 403.6,449.9 404.3,450.1 405.0,449.8 405.7,450.3 406.4,450.5 407.1,450.2 407.8,450.7 408.5,450.7 409.2,450.9 409.9,450.8 410.6,451.1 411.3,451.2 412.0,450.8 412.7,450.9 413.4,451.5 414.1,451.7 414.8,451.3 415.5,451.6 416.2,451.7 416.9,451.6 417.6,451.7 418.3,451.8 419.0,451.9 419.7,452.1 420.4,452.0 421.1,452.1 421.8,452.5 422.5,452.0 423.2,452.5 423.9,452.7 424.6,452.4" fill="none" stroke="#9c9c9c" stroke-width="1.5" stroke-linejoin="round"/>
<polyline points="483.4,456.1 484.1,456.0 484.8,456.2 485.5,456.1 486.2,456.0 486.9,456.2 487.6,456.6 488.3,456.5 489.0,456.5 489.7,456.1 490.4,456.3 491.1,456.1 491.8,456.1 492.5,456.0 493.2,415.5 493.9,358.0 494.6,347.7 495.3,348.6 496.0,352.1 496.7,355.5 497.4,359.4 498.1,363.3 498.8,366.9 499.5,370.3 500.2,373.6 500.9,376.1 501.6,379.3 502.3,382.1 503.0,384.7 503.7,387.0 504.4,389.6 505.1,391.6 505.8,394.4 506.5,396.5 507.2,398.3 507.9,400.0 508.6,402.3 509.3,403.8 510.0,405.7 510.7,407.3 511.4,408.6 512.1,410.0 512.8,411.5 513.5,412.7 514.2,413.8 514.9,415.2 515.6,416.7 516.3,417.3 517.0,418.4 517.7,419.9 518.4,420.7 519.1,421.8 519.8,422.7 520.5,423.5 521.2,424.8 521.9,425.1 522.6,426.0 523.3,426.6 524.0,427.7 524.7,428.2 525.4,428.9 526.1,429.8 526.8,430.2 527.5,430.9 528.2,431.8 528.9,431.8 529.6,432.3 530.3,433.0 531.0,433.9 531.7,434.3 532.4,434.5 533.1,435.0 533.8,435.4 534.5,436.0 535.2,436.1 535.9,437.0 536.6,437.5 537.3,438.0 538.0,438.2 538.7,438.7 539.4,438.4 540.1,438.9 540.8,439.8 541.5,439.9 542.2,440.0 542.9,440.7 543.6,440.8 544.3,441.2 545.0,441.1 545.7,441.3 546.4,441.8 547.1,441.8 547.8,442.2 548.5,442.9 549.2,442.7 549.9,442.7 550.6,443.0 551.3,443.3 552.0,443.9 552.7,443.9 553.4,444.0 554.1,444.1 554.8,444.9 555.5,444.7 556.2,444.8 556.9,444.8 557.6,445.0 558.3,445.3 559.0,445.8 559.7,445.6 560.4,445.7 561.1,446.2 561.8,446.2 562.5,446.9 563.2,446.4 563.9,446.9 564.6,447.2 565.3,447.1 566.0,447.6 566.7,447.4 567.4,447.4 568.1,447.6 568.8,447.5 569.5,447.9 570.2,447.9 570.9,448.5 571.6,448.6 572.3,448.5 573.0,448.3 573.7,448.5 574.4,448.6 575.1,448.7 575.8,448.9 576.5,449.4 577.2,449.0 577.9,449.1 578.6,449.8 579.3,449.6 580.0,450.0 580.7,449.7 581.4,450.2 582.1,450.1 582.8,450.3 583.5,450.3" fill="none" stroke="#9c9c9c" stroke-width="1.5" stroke-linejoin="round"/>
<polyline points="483.4,460.5 484.4,460.6 485.4,460.6 486.4,460.8 487.4,460.6 488.4,460.7 489.4,460.0 490.4,460.4 491.4,460.8 492.4,460.5 493.4,460.7 494.4,460.1 495.4,460.4 496.4,460.2 497.4,460.4 498.4,460.5 499.4,460.0 500.4,460.2 501.4,460.2 502.4,460.7 503.4,460.6 504.4,460.1 505.4,460.6 506.4,460.1 507.4,460.5 508.4,460.1 509.4,460.0 510.4,460.7 511.4,460.2 512.4,460.2 513.4,460.8 514.4,460.7 515.4,460.2 516.4,460.8 517.4,460.4 518.4,460.5 519.4,460.2 520.4,460.8 521.4,460.6 522.4,460.8 523.4,460.7 524.4,460.2 525.4,460.3 526.4,460.1 527.4,460.1 528.4,460.1 529.4,460.2 530.4,460.5 531.4,460.0 532.4,460.5 533.4,460.3 534.4,460.2 535.4,460.7 536.4,460.4 537.4,460.3 538.4,460.4 539.4,460.6 540.4,460.0 541.4,460.8 542.4,460.0 543.4,460.6 544.4,460.7 545.4,460.0 546.4,460.6 547.4,460.3 548.4,460.5 549.4,460.0 550.4,460.0 551.4,460.1 552.4,460.8 553.4,460.2 554.4,460.6 555.4,460.7 556.4,460.8 557.4,460.3 558.4,460.3 559.4,460.4 560.4,460.6 561.4,460.1 562.4,460.6 563.4,460.6 564.4,460.7 565.4,460.0 566.4,460.8 567.4,460.1 568.4,460.3 569.4,460.5 570.4,460.7 571.4,460.3 572.4,460.7 573.4,460.4 574.4,460.2 575.4,460.3 576.4,460.1 577.4,460.1 578.4,460.1 579.4,460.6 580.4,460.8 581.4,460.1 582.4,460.0 583.4,460.8 584.4,460.4" fill="none" stroke="#1414ff" stroke-width="1.9"/>
<polyline points="20.7,594.3 21.4,594.3 22.1,594.0 22.8,593.8 23.5,593.6 24.2,594.1 24.9,594.0 25.6,594.2 26.3,593.9 27.0,594.2 27.7,593.8 28.4,594.3 29.1,594.2 29.8,593.4 30.5,592.4 31.2,591.8 31.9,590.8 32.6,590.8 33.3,590.8 34.0,590.1 34.7,590.5 35.4,590.4 36.1,590.5 36.8,590.1 37.5,589.9 38.2,590.6 38.9,590.7 39.6,590.4 40.3,590.2 41.0,590.4 41.7,590.9 42.4,590.6 43.1,591.3 43.8,591.1 44.5,590.8 45.2,591.3 45.9,591.1 46.6,591.7 47.3,591.7 48.0,591.4 48.7,591.6 49.4,591.7 50.1,591.9 50.8,592.1 51.5,591.3 52.2,591.7 52.9,592.0 53.6,591.7 54.3,592.0 55.0,591.6 55.7,592.4 56.4,592.1 57.1,591.8 57.8,592.3 58.5,592.1 59.2,592.0 59.9,592.3 60.6,592.0 61.3,592.1 62.0,592.8 62.7,592.6 63.4,592.1 64.1,592.8 64.8,592.1 65.5,592.4 66.2,593.0 66.9,592.7 67.6,592.5 68.3,592.6 69.0,592.6 69.7,592.4 70.4,593.2 71.1,592.4 71.8,592.7 72.5,593.1 73.2,592.8 73.9,593.3 74.6,592.7 75.3,593.4 76.0,593.3 76.7,593.1 77.4,593.3 78.1,593.0 78.8,593.3 79.5,593.3 80.2,593.1 80.9,593.0 81.6,593.3 82.3,593.0 83.0,592.7 83.7,593.4 84.4,592.9 85.1,593.1 85.8,593.4 86.5,592.9 87.2,592.8 87.9,592.9 88.6,593.3 89.3,593.1 90.0,593.0 90.7,593.2 91.4,593.7 92.1,593.1 92.8,593.2 93.5,593.6 94.2,593.4 94.9,593.1 95.6,593.3 96.3,593.3 97.0,593.0 97.7,593.3 98.4,593.2 99.1,593.7 99.8,593.2 100.5,593.6 101.2,593.8 101.9,593.8 102.6,593.3 103.3,593.5 104.0,593.3 104.7,593.4 105.4,593.5 106.1,593.7 106.8,593.9 107.5,593.3 108.2,593.1 108.9,593.5 109.6,593.1 110.3,593.1 111.0,593.8 111.7,593.2 112.4,593.7 113.1,593.4 113.8,593.9 114.5,593.9 115.2,593.2 115.9,593.3 116.6,594.0 117.3,593.7 118.0,593.5 118.7,593.9 119.4,593.9 120.1,593.6 120.8,593.6" fill="none" stroke="#ff2b2b" stroke-width="1.5" stroke-linejoin="round"/>
<polyline points="161.4,594.2 162.1,594.0 162.8,594.4 163.5,594.0 164.2,594.3 164.9,594.2 165.6,593.9 166.3,594.3 167.0,593.9 167.7,594.2 168.4,594.0 169.1,594.0 169.8,594.2 170.5,594.6 171.2,594.0 171.9,594.1 172.6,583.1 173.3,575.4 174.0,570.7 174.7,568.4 175.4,567.9 176.1,567.1 176.8,568.1 177.5,568.2 178.2,568.9 178.9,569.7 179.6,570.7 180.3,572.0 181.0,572.4 181.7,573.5 182.4,574.4 183.1,575.0 183.8,575.9 184.5,576.2 185.2,576.9 185.9,577.7 186.6,578.7 187.3,579.1 188.0,579.6 188.7,580.3 189.4,580.8 190.1,581.1 190.8,582.0 191.5,582.4 192.2,582.5 192.9,583.2 193.6,583.5 194.3,584.2 195.0,584.5 195.7,584.5 196.4,585.4 197.1,585.0 197.8,585.6 198.5,586.1 199.2,585.9 199.9,586.5 200.6,586.4 201.3,587.1 202.0,587.5 202.7,587.5 203.4,588.0 204.1,587.8 204.8,588.3 205.5,588.4 206.2,588.6 206.9,588.7 207.6,589.1 208.3,589.4 209.0,589.2 209.7,589.5 210.4,589.2 211.1,589.8 211.8,589.9 212.5,590.3 213.2,590.3 213.9,590.0 214.6,590.2 215.3,590.5 216.0,590.1 216.7,590.6 217.4,590.5 218.1,590.5 218.8,590.6 219.5,591.2 220.2,590.8 220.9,591.0 221.6,591.2 222.3,591.6 223.0,591.1 223.7,591.5 224.4,591.6 225.1,591.9 225.8,592.0 226.5,592.1 227.2,591.7 227.9,591.8 228.6,591.8 229.3,592.3 230.0,592.4 230.7,591.8 231.4,591.9 232.1,592.0 232.8,592.1 233.5,592.3 234.2,592.4 234.9,592.2 235.6,592.1 236.3,592.4 237.0,592.4 237.7,592.6 238.4,593.0 239.1,592.8 239.8,592.7 240.5,592.8 241.2,592.9 241.9,592.4 242.6,593.1 243.3,593.1 244.0,593.2 244.7,593.2 245.4,592.9 246.1,592.9 246.8,592.7 247.5,593.1 248.2,592.7 248.9,592.7 249.6,592.9 250.3,592.9 251.0,593.0 251.7,592.8 252.4,592.8 253.1,592.9 253.8,592.9 254.5,593.2 255.2,592.9 255.9,593.6 256.6,593.4 257.3,593.1 258.0,593.2 258.7,593.3 259.4,593.3 260.1,593.1 260.8,593.7 261.5,593.8 262.2,593.4" fill="none" stroke="#ff2b2b" stroke-width="1.5" stroke-linejoin="round"/>
<polyline points="323.8,594.6 324.5,595.2 325.2,594.5 325.9,595.0 326.6,594.5 327.3,594.6 328.0,595.2 328.7,594.6 329.4,594.9 330.1,594.8 330.8,594.8 331.5,594.8 332.2,594.6 332.9,595.1 333.6,585.2 334.3,569.9 335.0,560.3 335.7,555.0 336.4,552.1 337.1,551.1 337.8,550.4 338.5,550.5 339.2,551.4 339.9,553.0 340.6,553.3 341.3,555.0 342.0,556.0 342.7,557.5 343.4,558.5 344.1,559.9 344.8,560.9 345.5,562.2 346.2,563.5 346.9,564.3 347.6,564.9 348.3,565.9 349.0,567.5 349.7,568.0 350.4,568.7 351.1,570.1 351.8,570.6 352.5,571.5 353.2,572.4 353.9,572.7 354.6,573.4 355.3,574.5 356.0,574.5 356.7,575.7 357.4,575.7 358.1,576.8 358.8,577.3 359.5,578.1 360.2,578.5 360.9,578.7 361.6,579.0 362.3,579.4 363.0,580.1 363.7,580.6 364.4,580.6 365.1,581.7 365.8,581.8 366.5,582.3 367.2,582.3 367.9,582.6 368.6,582.8 369.3,583.4 370.0,583.6 370.7,584.1 371.4,584.3 372.1,585.0 372.8,585.3 373.5,585.0 374.2,585.4 374.9,585.5 375.6,586.1 376.3,586.6 377.0,586.2 377.7,586.9 378.4,586.7 379.1,586.7 379.8,587.5 380.5,587.3 381.2,587.4 381.9,587.8 382.6,587.8 383.3,588.1 384.0,588.3 384.7,588.4 385.4,588.7 386.1,588.6 386.8,588.6 387.5,588.7 388.2,588.9 388.9,589.3 389.6,589.3 390.3,589.8 391.0,589.7 391.7,590.0 392.4,590.3 393.1,589.7 393.8,589.8 394.5,590.0 395.2,590.3 395.9,590.5 396.6,590.7 397.3,590.5 398.0,591.1 398.7,590.4 399.4,591.2 400.1,590.8 400.8,591.4 401.5,590.8 402.2,591.6 402.9,591.5 403.6,591.8 404.3,591.5 405.0,591.3 405.7,592.0 406.4,591.6 407.1,591.4 407.8,591.9 408.5,591.8 409.2,591.9 409.9,591.7 410.6,591.7 411.3,592.1 412.0,592.1 412.7,591.9 413.4,592.2 414.1,592.5 414.8,592.5 415.5,592.4 416.2,592.3 416.9,592.4 417.6,592.3 418.3,592.3 419.0,592.6 419.7,592.3 420.4,592.9 421.1,592.9 421.8,592.9 422.5,592.4 423.2,592.7 423.9,592.8 424.6,592.6" fill="none" stroke="#ff2b2b" stroke-width="1.5" stroke-linejoin="round"/>
<polyline points="483.4,594.3 484.1,594.2 484.8,594.0 485.5,594.6 486.2,593.9 486.9,594.3 487.6,594.6 488.3,594.0 489.0,594.3 489.7,594.4 490.4,593.9 491.1,594.2 491.8,594.5 492.5,594.3 493.2,594.5 493.9,578.9 494.6,560.1 495.3,547.8 496.0,540.7 496.7,536.6 497.4,534.0 498.1,533.3 498.8,533.0 499.5,534.0 500.2,534.5 500.9,535.9 501.6,537.7 502.3,539.2 503.0,540.5 503.7,541.8 504.4,543.5 505.1,545.0 505.8,546.5 506.5,548.4 507.2,549.3 507.9,551.2 508.6,552.5 509.3,553.1 510.0,554.6 510.7,555.9 511.4,556.7 512.1,558.1 512.8,559.5 513.5,559.9 514.2,561.3 514.9,561.9 515.6,563.2 516.3,564.3 517.0,564.6 517.7,565.3 518.4,566.2 519.1,567.3 519.8,567.7 520.5,568.5 521.2,569.5 521.9,570.5 522.6,570.8 523.3,571.4 524.0,572.2 524.7,572.4 525.4,573.3 526.1,573.6 526.8,574.4 527.5,575.2 528.2,575.0 528.9,575.9 529.6,576.4 530.3,576.5 531.0,577.1 531.7,578.1 532.4,578.5 533.1,578.2 533.8,579.1 534.5,579.6 535.2,579.4 535.9,580.1 536.6,580.0 537.3,580.6 538.0,581.1 538.7,581.4 539.4,581.8 540.1,581.6 540.8,582.1 541.5,582.8 542.2,582.8 542.9,583.0 543.6,583.2 544.3,583.9 545.0,583.8 545.7,583.6 546.4,584.5 547.1,584.3 547.8,584.6 548.5,584.7 549.2,585.1 549.9,585.2 550.6,585.2 551.3,585.8 552.0,585.6 552.7,586.3 553.4,585.8 554.1,586.6 554.8,586.8 555.5,586.7 556.2,587.0 556.9,586.8 557.6,587.4 558.3,587.3 559.0,587.2 559.7,588.0 560.4,587.7 561.1,587.8 561.8,588.3 562.5,588.0 563.2,588.4 563.9,588.1 564.6,588.7 565.3,588.4 566.0,588.3 566.7,589.2 567.4,588.6 568.1,589.4 568.8,589.5 569.5,589.3 570.2,588.9 570.9,589.1 571.6,589.3 572.3,589.5 573.0,589.8 573.7,590.1 574.4,589.7 575.1,589.6 575.8,590.1 576.5,589.8 577.2,589.8 577.9,590.3 578.6,590.5 579.3,590.0 580.0,590.4 580.7,590.7 581.4,590.8 582.1,590.6 582.8,591.0 583.5,590.5" fill="none" stroke="#ff2b2b" stroke-width="1.5" stroke-linejoin="round"/>
<polyline points="483.4,598.4 484.4,598.2 485.4,598.4 486.4,598.1 487.4,598.6 488.4,598.6 489.4,598.4 490.4,598.0 491.4,598.3 492.4,598.2 493.4,598.1 494.4,598.7 495.4,598.7 496.4,597.9 497.4,598.6 498.4,598.4 499.4,598.2 500.4,598.1 501.4,598.4 502.4,598.3 503.4,598.4 504.4,598.4 505.4,598.0 506.4,598.5 507.4,598.7 508.4,598.7 509.4,598.4 510.4,597.9 511.4,597.9 512.4,598.0 513.4,598.7 514.4,598.1 515.4,598.2 516.4,598.6 517.4,598.2 518.4,598.3 519.4,598.2 520.4,598.0 521.4,598.4 522.4,598.6 523.4,598.0 524.4,598.1 525.4,598.2 526.4,597.9 527.4,598.3 528.4,598.6 529.4,598.4 530.4,598.3 531.4,598.6 532.4,598.0 533.4,598.4 534.4,598.2 535.4,598.4 536.4,598.0 537.4,598.5 538.4,598.0 539.4,598.0 540.4,598.5 541.4,598.7 542.4,598.2 543.4,598.2 544.4,598.1 545.4,598.1 546.4,598.4 547.4,598.0 548.4,598.0 549.4,598.3 550.4,598.0 551.4,598.4 552.4,598.6 553.4,598.5 554.4,598.3 555.4,598.2 556.4,598.2 557.4,597.9 558.4,598.5 559.4,598.2 560.4,598.2 561.4,598.0 562.4,598.3 563.4,598.4 564.4,598.2 565.4,598.6 566.4,598.4 567.4,598.1 568.4,598.3 569.4,598.6 570.4,598.3 571.4,598.4 572.4,598.0 573.4,598.3 574.4,598.3 575.4,598.2 576.4,598.2 577.4,598.4 578.4,598.3 579.4,598.3 580.4,598.0 581.4,598.3 582.4,598.7 583.4,598.2 584.4,597.9" fill="none" stroke="#1414ff" stroke-width="1.9"/>
<path d="M29.0,477.8 L29.0,467.7 M24.4,472.1 L29.0,467.4 L33.6,472.1" fill="none" stroke="#1ba1e2" stroke-width="2" stroke-linecap="butt" stroke-linejoin="miter"/>
<path d="M178.3,477.8 L178.3,467.7 M173.7,472.1 L178.3,467.4 L182.9,472.1" fill="none" stroke="#1ba1e2" stroke-width="2" stroke-linecap="butt" stroke-linejoin="miter"/>
<path d="M331.9,477.8 L331.9,467.7 M327.3,472.1 L331.9,467.4 L336.5,472.1" fill="none" stroke="#1ba1e2" stroke-width="2" stroke-linecap="butt" stroke-linejoin="miter"/>
<path d="M491.5,477.8 L491.5,467.7 M486.9,472.1 L491.5,467.4 L496.1,472.1" fill="none" stroke="#1ba1e2" stroke-width="2" stroke-linecap="butt" stroke-linejoin="miter"/>
<text x="39.7" y="478.8" font-size="20">1 mW</text>
<text x="185.4" y="478.8" font-size="20">2 mW</text>
<text x="342.1" y="478.8" font-size="20">3 mW</text>
<text x="497.9" y="478.8" font-size="20">4 mW</text>
<path d="M29.8,615.3 L29.8,605.2 M25.2,609.6 L29.8,604.9 L34.4,609.6" fill="none" stroke="#1ba1e2" stroke-width="2" stroke-linecap="butt" stroke-linejoin="miter"/>
<path d="M169.4,615.3 L169.4,605.2 M164.8,609.6 L169.4,604.9 L174.0,609.6" fill="none" stroke="#1ba1e2" stroke-width="2" stroke-linecap="butt" stroke-linejoin="miter"/>
<path d="M331.3,615.3 L331.3,605.2 M326.7,609.6 L331.3,604.9 L335.9,609.6" fill="none" stroke="#1ba1e2" stroke-width="2" stroke-linecap="butt" stroke-linejoin="miter"/>
<path d="M491.5,615.3 L491.5,605.2 M486.9,609.6 L491.5,604.9 L496.1,609.6" fill="none" stroke="#1ba1e2" stroke-width="2" stroke-linecap="butt" stroke-linejoin="miter"/>
<text x="39.2" y="616.3" font-size="20">1 mW</text>
<text x="177.7" y="616.3" font-size="20">2 mW</text>
<text x="340.8" y="616.3" font-size="20">3 mW</text>
<text x="500.4" y="616.3" font-size="20">4 mW</text>
<path d="M556.5,523.7 L556.5,557.5 L608.7,557.5" fill="none" stroke="#000" stroke-width="1.3"/>
<text x="542.3" y="558.5" font-size="25.5" transform="rotate(-90 542.3 558.5)">50 pA</text>
<text x="541.5" y="575.4" font-size="19.5">100 ms</text>
<text x="656.5" y="327.0" font-size="29" font-weight="bold">f</text>
<line x1="784.2" y1="321.4" x2="808.7" y2="321.4" stroke="#000" stroke-width="3.1"/>
<path d="M815.7,321.4 L810.7,323.4 L794.4,314.7 L793.7,312.9 L811.2,319.0 Z" fill="#000"/>
<path d="M815.7,321.4 L810.7,319.4 L794.4,328.1 L793.7,329.9 L811.2,323.8 Z" fill="#000"/>
<text x="822.9" y="326.5" font-size="19.5">LH</text>
<line x1="725.2" y1="359.9" x2="725.2" y2="579.1" stroke="#000" stroke-width="1.4"/>
<line x1="724.5" y1="578.4" x2="945.8" y2="578.4" stroke="#000" stroke-width="1.3"/>
<line x1="720.2" y1="360.5" x2="725.2" y2="360.5" stroke="#000" stroke-width="1.15"/>
<text x="718.7" y="364.7" font-size="20" text-anchor="end">200</text>
<line x1="720.2" y1="414.9" x2="725.2" y2="414.9" stroke="#000" stroke-width="1.15"/>
<text x="718.7" y="420.6" font-size="20" text-anchor="end">150</text>
<line x1="720.2" y1="469.3" x2="725.2" y2="469.3" stroke="#000" stroke-width="1.15"/>
<text x="718.7" y="475.0" font-size="20" text-anchor="end">100</text>
<line x1="720.2" y1="523.6" x2="725.2" y2="523.6" stroke="#000" stroke-width="1.15"/>
<text x="718.7" y="529.3" font-size="20" text-anchor="end">50</text>
<line x1="720.2" y1="578.0" x2="725.2" y2="578.0" stroke="#000" stroke-width="1.15"/>
<text x="718.7" y="583.7" font-size="20" text-anchor="end">0</text>
<line x1="752.7" y1="578.4" x2="752.7" y2="583.9" stroke="#000" stroke-width="1.3"/>
<text x="752.7" y="599.6" font-size="19.5" text-anchor="middle">1</text>
<line x1="807.2" y1="578.4" x2="807.2" y2="583.9" stroke="#000" stroke-width="1.3"/>
<text x="807.2" y="599.6" font-size="19.5" text-anchor="middle">2</text>
<line x1="861.6" y1="578.4" x2="861.6" y2="583.9" stroke="#000" stroke-width="1.3"/>
<text x="861.6" y="599.6" font-size="19.5" text-anchor="middle">3</text>
<line x1="916.3" y1="578.4" x2="916.3" y2="583.9" stroke="#000" stroke-width="1.3"/>
<text x="916.3" y="599.6" font-size="19.5" text-anchor="middle">4</text>
<text x="834.6" y="616.8" font-size="20.35" text-anchor="middle">Light power (mW)</text>
<text x="677.8" y="468.0" font-size="20.1" text-anchor="middle" transform="rotate(-90 677.8 468.0)">Light-evoked IPSCs (pA)</text>
<line x1="742.9" y1="365.0" x2="765.3" y2="365.0" stroke="#a0a0a0" stroke-width="1.3"/>
<circle cx="754.0" cy="365.0" r="4.4" fill="#fff" stroke="#a0a0a0" stroke-width="1.3"/>
<text x="779.4" y="371.1" font-size="19.9">Chow (10)</text>
<line x1="742.9" y1="394.6" x2="765.3" y2="394.6" stroke="#ff3030" stroke-width="1.3"/>
<rect x="749.6" y="390.2" width="8.8" height="8.8" fill="#fff" stroke="#ff3030" stroke-width="1.3"/>
<text x="779.4" y="400.9" font-size="19.9">HFD (10)</text>
<line x1="752.7" y1="563.4" x2="752.7" y2="558.5" stroke="#a0a0a0" stroke-width="1.3"/>
<line x1="748.4" y1="558.5" x2="757.0" y2="558.5" stroke="#a0a0a0" stroke-width="1.3"/>
<line x1="807.2" y1="514.2" x2="807.2" y2="505.9" stroke="#a0a0a0" stroke-width="1.3"/>
<line x1="802.9" y1="505.9" x2="811.5" y2="505.9" stroke="#a0a0a0" stroke-width="1.3"/>
<line x1="861.6" y1="455.6" x2="861.6" y2="446.2" stroke="#a0a0a0" stroke-width="1.3"/>
<line x1="857.3" y1="446.2" x2="865.9" y2="446.2" stroke="#a0a0a0" stroke-width="1.3"/>
<line x1="916.3" y1="408.0" x2="916.3" y2="389.5" stroke="#a0a0a0" stroke-width="1.3"/>
<line x1="912.0" y1="389.5" x2="920.6" y2="389.5" stroke="#a0a0a0" stroke-width="1.3"/>
<polyline points="752.7,563.4 807.2,514.2 861.6,455.6 916.3,408.0" fill="none" stroke="#a0a0a0" stroke-width="1.3"/>
<circle cx="752.7" cy="563.4" r="4.4" fill="#fff" stroke="#a0a0a0" stroke-width="1.3"/>
<circle cx="807.2" cy="514.2" r="4.4" fill="#fff" stroke="#a0a0a0" stroke-width="1.3"/>
<circle cx="861.6" cy="455.6" r="4.4" fill="#fff" stroke="#a0a0a0" stroke-width="1.3"/>
<circle cx="916.3" cy="408.0" r="4.4" fill="#fff" stroke="#a0a0a0" stroke-width="1.3"/>
<line x1="807.2" y1="555.0" x2="807.2" y2="548.8" stroke="#ff3030" stroke-width="1.3"/>
<line x1="802.9" y1="548.8" x2="811.5" y2="548.8" stroke="#ff3030" stroke-width="1.3"/>
<line x1="861.6" y1="520.0" x2="861.6" y2="512.4" stroke="#ff3030" stroke-width="1.3"/>
<line x1="857.3" y1="512.4" x2="865.9" y2="512.4" stroke="#ff3030" stroke-width="1.3"/>
<line x1="916.3" y1="489.8" x2="916.3" y2="477.6" stroke="#ff3030" stroke-width="1.3"/>
<line x1="912.0" y1="477.6" x2="920.6" y2="477.6" stroke="#ff3030" stroke-width="1.3"/>
<polyline points="752.7,575.0 807.2,555.0 861.6,520.0 916.3,489.8" fill="none" stroke="#ff3030" stroke-width="1.3"/>
<rect x="748.3" y="570.6" width="8.8" height="8.8" fill="#fff" stroke="#ff3030" stroke-width="1.3"/>
<rect x="802.8" y="550.6" width="8.8" height="8.8" fill="#fff" stroke="#ff3030" stroke-width="1.3"/>
<rect x="857.2" y="515.6" width="8.8" height="8.8" fill="#fff" stroke="#ff3030" stroke-width="1.3"/>
<rect x="911.9" y="485.4" width="8.8" height="8.8" fill="#fff" stroke="#ff3030" stroke-width="1.3"/>
<text x="806.4" y="503.0" font-size="24.5" text-anchor="middle">**</text>
<text x="862.6" y="444.0" font-size="24.5" text-anchor="middle">***</text>
<text x="915.3" y="386.5" font-size="24.5" text-anchor="middle">**</text>
<line x1="1100.8" y1="321.4" x2="1125.8" y2="321.4" stroke="#000" stroke-width="3.1"/>
<path d="M1132.8,321.4 L1127.8,323.4 L1111.5,314.7 L1110.8,312.9 L1128.3,319.0 Z" fill="#000"/>
<path d="M1132.8,321.4 L1127.8,319.4 L1111.5,328.1 L1110.8,329.9 L1128.3,323.8 Z" fill="#000"/>
<text x="1141.7" y="326.4" font-size="19.5">TN</text>
<line x1="1040.5" y1="357.2" x2="1040.5" y2="577.2" stroke="#000" stroke-width="1.4"/>
<line x1="1039.8" y1="576.3" x2="1261.0" y2="576.3" stroke="#000" stroke-width="1.9"/>
<line x1="1035.5" y1="357.8" x2="1040.5" y2="357.8" stroke="#000" stroke-width="1.15"/>
<text x="1033.5" y="362.2" font-size="20" text-anchor="end">200</text>
<line x1="1035.5" y1="412.3" x2="1040.5" y2="412.3" stroke="#000" stroke-width="1.15"/>
<text x="1033.5" y="418.1" font-size="20" text-anchor="end">150</text>
<line x1="1035.5" y1="466.7" x2="1040.5" y2="466.7" stroke="#000" stroke-width="1.15"/>
<text x="1033.5" y="472.5" font-size="20" text-anchor="end">100</text>
<line x1="1035.5" y1="521.2" x2="1040.5" y2="521.2" stroke="#000" stroke-width="1.15"/>
<text x="1033.5" y="527.0" font-size="20" text-anchor="end">50</text>
<line x1="1035.5" y1="575.6" x2="1040.5" y2="575.6" stroke="#000" stroke-width="1.15"/>
<text x="1033.5" y="581.4" font-size="20" text-anchor="end">0</text>
<line x1="1068.9" y1="576.3" x2="1068.9" y2="581.8" stroke="#000" stroke-width="1.5"/>
<text x="1068.9" y="598.0" font-size="19.7" text-anchor="middle">1</text>
<line x1="1123.2" y1="576.3" x2="1123.2" y2="581.8" stroke="#000" stroke-width="1.5"/>
<text x="1123.2" y="598.0" font-size="19.7" text-anchor="middle">2</text>
<line x1="1177.8" y1="576.3" x2="1177.8" y2="581.8" stroke="#000" stroke-width="1.5"/>
<text x="1177.8" y="598.0" font-size="19.7" text-anchor="middle">3</text>
<line x1="1232.3" y1="576.3" x2="1232.3" y2="581.8" stroke="#000" stroke-width="1.5"/>
<text x="1232.3" y="598.0" font-size="19.7" text-anchor="middle">4</text>
<text x="1150.8" y="614.7" font-size="20.35" text-anchor="middle">Light power (mW)</text>
<text x="992.7" y="465.5" font-size="20.1" text-anchor="middle" transform="rotate(-90 992.7 465.5)">Light-evoked IPSCs (pA)</text>
<line x1="1061.9" y1="360.8" x2="1085.0" y2="360.8" stroke="#a0a0a0" stroke-width="1.3"/>
<circle cx="1073.2" cy="360.8" r="4.4" fill="#fff" stroke="#a0a0a0" stroke-width="1.3"/>
<text x="1098.8" y="367.1" font-size="19.9">Chow (12)</text>
<line x1="1061.9" y1="389.7" x2="1085.0" y2="389.7" stroke="#ff3030" stroke-width="1.6"/>
<rect x="1068.8" y="385.3" width="8.8" height="8.8" fill="#fff" stroke="#ff3030" stroke-width="1.3"/>
<text x="1098.8" y="396.5" font-size="19.9">HFD (12)</text>
<line x1="1068.9" y1="549.2" x2="1068.9" y2="542.5" stroke="#a0a0a0" stroke-width="1.3"/>
<line x1="1064.6" y1="542.5" x2="1073.2" y2="542.5" stroke="#a0a0a0" stroke-width="1.3"/>
<line x1="1123.2" y1="523.3" x2="1123.2" y2="516.8" stroke="#a0a0a0" stroke-width="1.3"/>
<line x1="1118.9" y1="516.8" x2="1127.5" y2="516.8" stroke="#a0a0a0" stroke-width="1.3"/>
<line x1="1177.8" y1="494.0" x2="1177.8" y2="485.1" stroke="#a0a0a0" stroke-width="1.3"/>
<line x1="1173.5" y1="485.1" x2="1182.1" y2="485.1" stroke="#a0a0a0" stroke-width="1.3"/>
<line x1="1232.3" y1="442.5" x2="1232.3" y2="423.2" stroke="#a0a0a0" stroke-width="1.3"/>
<line x1="1228.0" y1="423.2" x2="1236.6" y2="423.2" stroke="#a0a0a0" stroke-width="1.3"/>
<polyline points="1068.9,549.2 1123.2,523.3 1177.8,494.0 1232.3,442.5" fill="none" stroke="#a0a0a0" stroke-width="1.3"/>
<circle cx="1068.9" cy="549.2" r="4.4" fill="#fff" stroke="#a0a0a0" stroke-width="1.3"/>
<circle cx="1123.2" cy="523.3" r="4.4" fill="#fff" stroke="#a0a0a0" stroke-width="1.3"/>
<circle cx="1177.8" cy="494.0" r="4.4" fill="#fff" stroke="#a0a0a0" stroke-width="1.3"/>
<circle cx="1232.3" cy="442.5" r="4.4" fill="#fff" stroke="#a0a0a0" stroke-width="1.3"/>
<line x1="1177.8" y1="539.0" x2="1177.8" y2="533.0" stroke="#ff3030" stroke-width="1.3"/>
<line x1="1173.5" y1="533.0" x2="1182.1" y2="533.0" stroke="#ff3030" stroke-width="1.3"/>
<line x1="1232.3" y1="504.0" x2="1232.3" y2="492.7" stroke="#ff3030" stroke-width="1.3"/>
<line x1="1228.0" y1="492.7" x2="1236.6" y2="492.7" stroke="#ff3030" stroke-width="1.3"/>
<polyline points="1068.9,568.1 1123.2,556.0 1177.8,539.0 1232.3,504.0" fill="none" stroke="#ff3030" stroke-width="1.3"/>
<rect x="1064.5" y="563.7" width="8.8" height="8.8" fill="#fff" stroke="#ff3030" stroke-width="1.3"/>
<rect x="1118.8" y="551.6" width="8.8" height="8.8" fill="#fff" stroke="#ff3030" stroke-width="1.3"/>
<rect x="1173.4" y="534.6" width="8.8" height="8.8" fill="#fff" stroke="#ff3030" stroke-width="1.3"/>
<rect x="1227.9" y="499.6" width="8.8" height="8.8" fill="#fff" stroke="#ff3030" stroke-width="1.3"/>
<text x="1178.8" y="483.0" font-size="24.5" text-anchor="middle">**</text>
<text x="1230.8" y="421.5" font-size="24.5" text-anchor="middle">***</text>
<text x="1.0" y="660.0" font-size="29" font-weight="bold">g</text>
<rect x="113.6" y="716.4" width="299.0" height="30.4" fill="#fff" stroke="#000" stroke-width="1.4"/>
<rect x="140.4" y="725.0" width="18.4" height="13.1" fill="#d2d2d2"/>
<text x="171.3" y="737.8" font-size="21.3">EGFP</text>
<rect x="268.0" y="723.2" width="18.8" height="12.8" fill="#e84444"/>
<text x="298.0" y="736.4" font-size="21.3">OE-Gad2</text>
<rect x="114.0" y="764.8" width="34.0" height="13.9" fill="#d2d2d2"/>
<rect x="151.9" y="764.8" width="34.0" height="13.9" fill="#e84444"/>
<rect x="189.7" y="764.8" width="34.0" height="13.9" fill="#d2d2d2"/>
<rect x="227.1" y="764.8" width="34.0" height="13.9" fill="#e84444"/>
<rect x="264.9" y="764.8" width="34.0" height="13.9" fill="#d2d2d2"/>
<rect x="303.0" y="764.8" width="34.0" height="13.9" fill="#e84444"/>
<rect x="340.2" y="764.8" width="34.0" height="13.9" fill="#d2d2d2"/>
<rect x="378.0" y="764.8" width="34.0" height="13.9" fill="#e84444"/>
<rect x="100.0" y="786.5" width="327.5" height="130.0" fill="#fafafa" filter="url(#bgblur)"/>
<g filter="url(#bblur2)">
<path d="M115.0,816.2 Q131.0,816.7 147.0,816.2 L147.0,820.4 Q131.0,820.9 115.0,820.4 Z" fill="#3a3a3a" opacity="0.2" stroke="#3a3a3a" stroke-width="1.5" stroke-linejoin="round"/>
<path d="M153.0,813.7 Q169.5,815.5 186.0,814.2 L186.0,822.8 Q169.5,824.0 153.0,822.2 Z" fill="#3a3a3a" opacity="0.42" stroke="#3a3a3a" stroke-width="1.5" stroke-linejoin="round"/>
<path d="M193.0,817.3 Q207.0,817.8 221.0,816.3 L221.0,820.3 Q207.0,821.8 193.0,821.3 Z" fill="#3a3a3a" opacity="0.17" stroke="#3a3a3a" stroke-width="1.5" stroke-linejoin="round"/>
<path d="M229.0,813.2 Q245.0,814.6 261.0,814.5 L261.0,822.0 Q245.0,822.1 229.0,820.8 Z" fill="#3a3a3a" opacity="0.4" stroke="#3a3a3a" stroke-width="1.5" stroke-linejoin="round"/>
<path d="M268.0,817.6 Q282.0,818.2 296.0,816.4 L296.0,820.0 Q282.0,821.8 268.0,821.2 Z" fill="#3a3a3a" opacity="0.15" stroke="#3a3a3a" stroke-width="1.5" stroke-linejoin="round"/>
<path d="M305.0,813.8 Q321.0,814.0 337.0,812.2 L337.0,819.4 Q321.0,821.2 305.0,821.0 Z" fill="#3a3a3a" opacity="0.42" stroke="#3a3a3a" stroke-width="1.5" stroke-linejoin="round"/>
<path d="M343.0,816.0 Q357.5,816.0 372.0,814.4 L372.0,818.6 Q357.5,820.2 343.0,820.2 Z" fill="#3a3a3a" opacity="0.2" stroke="#3a3a3a" stroke-width="1.5" stroke-linejoin="round"/>
<path d="M380.0,810.9 Q396.0,810.5 412.0,808.9 L412.0,816.4 Q396.0,818.0 380.0,818.4 Z" fill="#3a3a3a" opacity="0.5" stroke="#3a3a3a" stroke-width="1.5" stroke-linejoin="round"/>
</g>
<g filter="url(#bblur)">
<path d="M154.0,815.2 Q169.5,817.0 185.0,815.8 L185.0,818.0 Q169.5,819.2 154.0,817.4 Z" fill="#2c2c2c" opacity="0.315" stroke="#2c2c2c" stroke-width="1.5" stroke-linejoin="round"/>
<path d="M230.0,814.3 Q245.0,815.7 260.0,815.5 L260.0,817.7 Q245.0,817.9 230.0,816.5 Z" fill="#2c2c2c" opacity="0.30000000000000004" stroke="#2c2c2c" stroke-width="1.5" stroke-linejoin="round"/>
<path d="M306.0,814.7 Q321.0,814.9 336.0,813.1 L336.0,815.3 Q321.0,817.1 306.0,816.9 Z" fill="#2c2c2c" opacity="0.315" stroke="#2c2c2c" stroke-width="1.5" stroke-linejoin="round"/>
<path d="M381.0,811.9 Q396.0,811.5 411.0,809.9 L411.0,812.1 Q396.0,813.7 381.0,814.1 Z" fill="#2c2c2c" opacity="0.375" stroke="#2c2c2c" stroke-width="1.5" stroke-linejoin="round"/>
</g>
<g filter="url(#bblur2)">
<path d="M113.0,877.5 Q130.5,879.1 148.0,879.5 L148.0,887.7 Q130.5,887.3 113.0,885.7 Z" fill="#303030" opacity="0.6" stroke="#303030" stroke-width="1.5" stroke-linejoin="round"/>
<path d="M153.0,879.6 Q169.5,881.2 186.0,880.0 L186.0,888.0 Q169.5,889.2 153.0,887.6 Z" fill="#303030" opacity="0.6" stroke="#303030" stroke-width="1.5" stroke-linejoin="round"/>
<path d="M191.0,880.9 Q207.0,882.1 223.0,880.9 L223.0,888.7 Q207.0,889.9 191.0,888.7 Z" fill="#303030" opacity="0.56" stroke="#303030" stroke-width="1.5" stroke-linejoin="round"/>
<path d="M229.0,880.7 Q244.5,881.9 260.0,880.7 L260.0,888.5 Q244.5,889.7 229.0,888.5 Z" fill="#303030" opacity="0.58" stroke="#303030" stroke-width="1.5" stroke-linejoin="round"/>
<path d="M266.0,881.3 Q282.0,882.7 298.0,881.3 L298.0,889.1 Q282.0,890.5 266.0,889.1 Z" fill="#303030" opacity="0.57" stroke="#303030" stroke-width="1.5" stroke-linejoin="round"/>
<path d="M304.0,881.5 Q320.0,882.7 336.0,881.1 L336.0,888.9 Q320.0,890.5 304.0,889.3 Z" fill="#303030" opacity="0.56" stroke="#303030" stroke-width="1.5" stroke-linejoin="round"/>
<path d="M342.0,881.1 Q358.0,882.3 374.0,880.7 L374.0,888.5 Q358.0,890.1 342.0,888.9 Z" fill="#303030" opacity="0.58" stroke="#303030" stroke-width="1.5" stroke-linejoin="round"/>
<path d="M380.0,880.5 Q396.0,881.5 412.0,879.7 L412.0,887.5 Q396.0,889.3 380.0,888.3 Z" fill="#303030" opacity="0.57" stroke="#303030" stroke-width="1.5" stroke-linejoin="round"/>
</g>
<g filter="url(#bblur)">
<path d="M114.5,881.3 Q130.5,882.9 146.5,883.3 L146.5,886.3 Q130.5,885.9 114.5,884.3 Z" fill="#1e1e1e" opacity="0.62" stroke="#1e1e1e" stroke-width="1.5" stroke-linejoin="round"/>
<path d="M154.5,883.3 Q169.5,884.9 184.5,883.7 L184.5,886.7 Q169.5,887.9 154.5,886.3 Z" fill="#1e1e1e" opacity="0.62" stroke="#1e1e1e" stroke-width="1.5" stroke-linejoin="round"/>
<path d="M192.5,884.5 Q207.0,885.7 221.5,884.5 L221.5,887.5 Q207.0,888.7 192.5,887.5 Z" fill="#1e1e1e" opacity="0.62" stroke="#1e1e1e" stroke-width="1.5" stroke-linejoin="round"/>
<path d="M230.5,884.3 Q244.5,885.5 258.5,884.3 L258.5,887.3 Q244.5,888.5 230.5,887.3 Z" fill="#1e1e1e" opacity="0.62" stroke="#1e1e1e" stroke-width="1.5" stroke-linejoin="round"/>
<path d="M267.5,884.9 Q282.0,886.3 296.5,884.9 L296.5,887.9 Q282.0,889.3 267.5,887.9 Z" fill="#1e1e1e" opacity="0.62" stroke="#1e1e1e" stroke-width="1.5" stroke-linejoin="round"/>
<path d="M305.5,885.1 Q320.0,886.3 334.5,884.7 L334.5,887.7 Q320.0,889.3 305.5,888.1 Z" fill="#1e1e1e" opacity="0.62" stroke="#1e1e1e" stroke-width="1.5" stroke-linejoin="round"/>
<path d="M343.5,884.7 Q358.0,885.9 372.5,884.3 L372.5,887.3 Q358.0,888.9 343.5,887.7 Z" fill="#1e1e1e" opacity="0.62" stroke="#1e1e1e" stroke-width="1.5" stroke-linejoin="round"/>
<path d="M381.5,884.1 Q396.0,885.1 410.5,883.3 L410.5,886.3 Q396.0,888.1 381.5,887.1 Z" fill="#1e1e1e" opacity="0.62" stroke="#1e1e1e" stroke-width="1.5" stroke-linejoin="round"/>
<path d="M133.0,882.4 Q140.0,883.0 147.0,883.1 L147.0,887.6 Q140.0,887.5 133.0,886.9 Z" fill="#0c0c0c" opacity="0.75" stroke="#0c0c0c" stroke-width="1.5" stroke-linejoin="round"/>
</g>
<text x="17.0" y="822.7" font-size="20.1">OE-Gad2</text>
<text x="17.0" y="889.7" font-size="20.1">β-actin</text>
<text x="456.0" y="661.3" font-size="29" font-weight="bold">h</text>
<line x1="522.7" y1="723.9" x2="522.7" y2="909.1" stroke="#000" stroke-width="1.4"/>
<line x1="522.0" y1="908.4" x2="640.6" y2="908.4" stroke="#000" stroke-width="1.5"/>
<line x1="517.7" y1="724.5" x2="522.7" y2="724.5" stroke="#000" stroke-width="1.15"/>
<text x="517.6" y="729.4" font-size="20" text-anchor="end">800</text>
<line x1="517.7" y1="770.5" x2="522.7" y2="770.5" stroke="#000" stroke-width="1.15"/>
<text x="517.6" y="775.4" font-size="20" text-anchor="end">600</text>
<line x1="517.7" y1="816.4" x2="522.7" y2="816.4" stroke="#000" stroke-width="1.15"/>
<text x="517.6" y="821.3" font-size="20" text-anchor="end">400</text>
<line x1="517.7" y1="862.4" x2="522.7" y2="862.4" stroke="#000" stroke-width="1.15"/>
<text x="517.6" y="867.3" font-size="20" text-anchor="end">200</text>
<line x1="517.7" y1="908.4" x2="522.7" y2="908.4" stroke="#000" stroke-width="1.15"/>
<text x="517.6" y="913.3" font-size="20" text-anchor="end">0</text>
<rect x="541.2" y="837.0" width="30.8" height="71.4" fill="#d2d2d2"/>
<rect x="590.9" y="787.0" width="31.2" height="121.4" fill="#e84444"/>
<line x1="556.4" y1="908.4" x2="556.4" y2="914.4" stroke="#000" stroke-width="1.3"/>
<line x1="606.1" y1="908.4" x2="606.1" y2="914.4" stroke="#000" stroke-width="1.3"/>
<text x="556.4" y="903.6" font-size="19.5" text-anchor="middle">8</text>
<text x="606.1" y="903.6" font-size="19.5" text-anchor="middle">8</text>
<text x="474.0" y="816.0" font-size="20.7" text-anchor="middle" transform="rotate(-90 474.0 816.0)">GABA (μg/g)</text>
<line x1="558.2" y1="730.2" x2="606.8" y2="730.2" stroke="#000" stroke-width="1.3"/>
<text x="582.7" y="733.0" font-size="24.5" text-anchor="middle">**</text>
<line x1="548.0" y1="827.0" x2="565.0" y2="827.0" stroke="#000" stroke-width="1.2"/>
<line x1="556.4" y1="827.0" x2="556.4" y2="837.0" stroke="#000" stroke-width="1.2"/>
<line x1="598.0" y1="774.2" x2="614.7" y2="774.2" stroke="#000" stroke-width="1.2"/>
<line x1="606.1" y1="774.2" x2="606.1" y2="787.0" stroke="#000" stroke-width="1.2"/>
<circle cx="556.4" cy="801.9" r="3.0" fill="#fff" stroke="#000" stroke-width="1.3"/>
<circle cx="551.8" cy="813.9" r="3.0" fill="#fff" stroke="#000" stroke-width="1.3"/>
<circle cx="561.8" cy="817.5" r="3.0" fill="#fff" stroke="#000" stroke-width="1.3"/>
<circle cx="551.8" cy="838.8" r="3.0" fill="#fff" stroke="#000" stroke-width="1.3"/>
<circle cx="561.8" cy="842.3" r="3.0" fill="#fff" stroke="#000" stroke-width="1.3"/>
<circle cx="551.8" cy="848.7" r="3.0" fill="#fff" stroke="#000" stroke-width="1.3"/>
<circle cx="561.8" cy="853.0" r="3.0" fill="#fff" stroke="#000" stroke-width="1.3"/>
<circle cx="556.4" cy="871.5" r="3.0" fill="#fff" stroke="#000" stroke-width="1.3"/>
<rect x="597.9" y="746.1" width="5.8" height="5.8" fill="#fff" stroke="#000" stroke-width="1.3"/>
<rect x="608.9" y="741.1" width="5.8" height="5.8" fill="#fff" stroke="#000" stroke-width="1.3"/>
<rect x="603.2" y="763.8" width="5.8" height="5.8" fill="#fff" stroke="#000" stroke-width="1.3"/>
<rect x="597.9" y="784.4" width="5.8" height="5.8" fill="#fff" stroke="#000" stroke-width="1.3"/>
<rect x="608.9" y="786.2" width="5.8" height="5.8" fill="#fff" stroke="#000" stroke-width="1.3"/>
<rect x="603.2" y="796.8" width="5.8" height="5.8" fill="#fff" stroke="#000" stroke-width="1.3"/>
<rect x="597.9" y="824.5" width="5.8" height="5.8" fill="#fff" stroke="#000" stroke-width="1.3"/>
<rect x="608.9" y="821.0" width="5.8" height="5.8" fill="#fff" stroke="#000" stroke-width="1.3"/>
<text x="564.5" y="925.0" font-size="20.1" text-anchor="end" transform="rotate(-45 564.5 925.0)">EGFP</text>
<text x="616.8" y="926.3" font-size="20.3" text-anchor="end" transform="rotate(-45 616.8 926.3)">OE-Gad2</text>
<text x="681.8" y="662.2" font-size="29" font-weight="bold">i</text>
<line x1="740.2" y1="664.5" x2="760.9" y2="664.5" stroke="#a0a0a0" stroke-width="1.3"/>
<circle cx="750.8" cy="664.5" r="4.4" fill="#fff" stroke="#a0a0a0" stroke-width="1.3"/>
<text x="767.7" y="670.5" font-size="19.8">Chow+EGFP (8)</text>
<line x1="738.5" y1="696.2" x2="760.5" y2="696.2" stroke="#ff9d3b" stroke-width="1.3"/>
<rect x="745.1" y="691.8" width="8.8" height="8.8" fill="#fff" stroke="#ff9d3b" stroke-width="1.3"/>
<text x="767.7" y="702.0" font-size="19.8">Chow+OE-Gad2 (8)</text>
<line x1="1054.3" y1="663.4" x2="1074.9" y2="663.4" stroke="#1b9db3" stroke-width="1.3"/>
<circle cx="1064.4" cy="663.4" r="4.6" fill="#fff" stroke="#1b9db3" stroke-width="1.3"/>
<text x="1079.6" y="669.2" font-size="19.9">HFD+EGFP (8)</text>
<line x1="1054.3" y1="696.6" x2="1074.9" y2="696.6" stroke="#1515ff" stroke-width="1.3"/>
<rect x="1060.0" y="692.2" width="8.8" height="8.8" fill="#fff" stroke="#1515ff" stroke-width="1.3"/>
<text x="1079.6" y="702.6" font-size="21.3">HFD+OE-Gad2 (8)</text>
<line x1="737.4" y1="715.5" x2="737.4" y2="914.8" stroke="#000" stroke-width="1.4"/>
<line x1="736.7" y1="914.1" x2="935.6" y2="914.1" stroke="#000" stroke-width="1.5"/>
<line x1="732.4" y1="716.1" x2="737.4" y2="716.1" stroke="#000" stroke-width="1.15"/>
<text x="730.8" y="721.9" font-size="20" text-anchor="end">30</text>
<line x1="732.4" y1="765.6" x2="737.4" y2="765.6" stroke="#000" stroke-width="1.15"/>
<text x="730.8" y="771.4" font-size="20" text-anchor="end">25</text>
<line x1="732.4" y1="815.1" x2="737.4" y2="815.1" stroke="#000" stroke-width="1.15"/>
<text x="730.8" y="820.9" font-size="20" text-anchor="end">20</text>
<line x1="732.4" y1="864.6" x2="737.4" y2="864.6" stroke="#000" stroke-width="1.15"/>
<text x="730.8" y="870.4" font-size="20" text-anchor="end">15</text>
<line x1="732.4" y1="914.1" x2="737.4" y2="914.1" stroke="#000" stroke-width="1.15"/>
<text x="730.8" y="919.9" font-size="20" text-anchor="end">10</text>
<line x1="757.3" y1="914.1" x2="757.3" y2="920.1" stroke="#000" stroke-width="1.3"/>
<text x="757.3" y="937.3" font-size="19.5" text-anchor="middle">0</text>
<line x1="796.9" y1="914.1" x2="796.9" y2="920.1" stroke="#000" stroke-width="1.3"/>
<text x="796.9" y="937.3" font-size="19.5" text-anchor="middle">1</text>
<line x1="836.5" y1="914.1" x2="836.5" y2="920.1" stroke="#000" stroke-width="1.3"/>
<text x="836.5" y="937.3" font-size="19.5" text-anchor="middle">2</text>
<line x1="876.1" y1="914.1" x2="876.1" y2="920.1" stroke="#000" stroke-width="1.3"/>
<text x="876.1" y="937.3" font-size="19.5" text-anchor="middle">3</text>
<line x1="915.4" y1="914.1" x2="915.4" y2="920.1" stroke="#000" stroke-width="1.3"/>
<text x="915.4" y="937.3" font-size="19.5" text-anchor="middle">4</text>
<text x="836.6" y="962.5" font-size="19.7" text-anchor="middle">Week</text>
<text x="698.7" y="811.5" font-size="20.1" text-anchor="middle" transform="rotate(-90 698.7 811.5)">Caloric intake (kcal/d)</text>
<line x1="796.9" y1="850.3" x2="796.9" y2="846.0" stroke="#ff9d3b" stroke-width="1.3"/>
<line x1="792.6" y1="846.0" x2="801.2" y2="846.0" stroke="#ff9d3b" stroke-width="1.3"/>
<line x1="915.4" y1="820.8" x2="915.4" y2="813.8" stroke="#ff9d3b" stroke-width="1.3"/>
<line x1="911.1" y1="813.8" x2="919.7" y2="813.8" stroke="#ff9d3b" stroke-width="1.3"/>
<polyline points="757.3,860.0 796.9,850.3 836.5,841.0 876.1,828.2 915.4,820.8" fill="none" stroke="#ff9d3b" stroke-width="1.3"/>
<rect x="752.9" y="855.6" width="8.8" height="8.8" fill="#fff" stroke="#ff9d3b" stroke-width="1.3"/>
<rect x="792.5" y="845.9" width="8.8" height="8.8" fill="#fff" stroke="#ff9d3b" stroke-width="1.3"/>
<rect x="832.1" y="836.6" width="8.8" height="8.8" fill="#fff" stroke="#ff9d3b" stroke-width="1.3"/>
<rect x="871.7" y="823.8" width="8.8" height="8.8" fill="#fff" stroke="#ff9d3b" stroke-width="1.3"/>
<rect x="911.0" y="816.4" width="8.8" height="8.8" fill="#fff" stroke="#ff9d3b" stroke-width="1.3"/>
<line x1="757.3" y1="857.0" x2="757.3" y2="844.0" stroke="#a0a0a0" stroke-width="1.3"/>
<line x1="753.0" y1="844.0" x2="761.6" y2="844.0" stroke="#a0a0a0" stroke-width="1.3"/>
<line x1="796.9" y1="843.5" x2="796.9" y2="838.0" stroke="#a0a0a0" stroke-width="1.3"/>
<line x1="792.6" y1="838.0" x2="801.2" y2="838.0" stroke="#a0a0a0" stroke-width="1.3"/>
<line x1="836.5" y1="832.2" x2="836.5" y2="828.0" stroke="#a0a0a0" stroke-width="1.3"/>
<line x1="832.2" y1="828.0" x2="840.8" y2="828.0" stroke="#a0a0a0" stroke-width="1.3"/>
<polyline points="757.3,857.0 796.9,843.5 836.5,832.2 876.1,816.3 915.4,804.4" fill="none" stroke="#a0a0a0" stroke-width="1.3"/>
<circle cx="757.3" cy="857.0" r="4.4" fill="#fff" stroke="#a0a0a0" stroke-width="1.3"/>
<circle cx="796.9" cy="843.5" r="4.4" fill="#fff" stroke="#a0a0a0" stroke-width="1.3"/>
<circle cx="836.5" cy="832.2" r="4.4" fill="#fff" stroke="#a0a0a0" stroke-width="1.3"/>
<circle cx="876.1" cy="816.3" r="4.4" fill="#fff" stroke="#a0a0a0" stroke-width="1.3"/>
<circle cx="915.4" cy="804.4" r="4.4" fill="#fff" stroke="#a0a0a0" stroke-width="1.3"/>
<line x1="796.9" y1="828.2" x2="796.9" y2="817.6" stroke="#1515ff" stroke-width="1.3"/>
<line x1="792.6" y1="817.6" x2="801.2" y2="817.6" stroke="#1515ff" stroke-width="1.3"/>
<line x1="836.5" y1="819.3" x2="836.5" y2="805.7" stroke="#1515ff" stroke-width="1.3"/>
<line x1="832.2" y1="805.7" x2="840.8" y2="805.7" stroke="#1515ff" stroke-width="1.3"/>
<line x1="876.1" y1="806.4" x2="876.1" y2="797.6" stroke="#1515ff" stroke-width="1.3"/>
<line x1="871.8" y1="797.6" x2="880.4" y2="797.6" stroke="#1515ff" stroke-width="1.3"/>
<line x1="915.4" y1="800.1" x2="915.4" y2="793.0" stroke="#1515ff" stroke-width="1.3"/>
<line x1="911.1" y1="793.0" x2="919.7" y2="793.0" stroke="#1515ff" stroke-width="1.3"/>
<polyline points="757.3,865.5 796.9,828.2 836.5,819.3 876.1,806.4 915.4,800.1" fill="none" stroke="#1515ff" stroke-width="1.3"/>
<rect x="752.9" y="861.1" width="8.8" height="8.8" fill="#fff" stroke="#1515ff" stroke-width="1.3"/>
<rect x="792.5" y="823.8" width="8.8" height="8.8" fill="#fff" stroke="#1515ff" stroke-width="1.3"/>
<rect x="832.1" y="814.9" width="8.8" height="8.8" fill="#fff" stroke="#1515ff" stroke-width="1.3"/>
<rect x="871.7" y="802.0" width="8.8" height="8.8" fill="#fff" stroke="#1515ff" stroke-width="1.3"/>
<rect x="911.0" y="795.7" width="8.8" height="8.8" fill="#fff" stroke="#1515ff" stroke-width="1.3"/>
<line x1="757.3" y1="858.7" x2="757.3" y2="852.5" stroke="#1b9db3" stroke-width="1.3"/>
<line x1="753.0" y1="852.5" x2="761.6" y2="852.5" stroke="#1b9db3" stroke-width="1.3"/>
<line x1="796.9" y1="793.0" x2="796.9" y2="781.7" stroke="#1b9db3" stroke-width="1.3"/>
<line x1="792.6" y1="781.7" x2="801.2" y2="781.7" stroke="#1b9db3" stroke-width="1.3"/>
<line x1="836.5" y1="773.6" x2="836.5" y2="761.5" stroke="#1b9db3" stroke-width="1.3"/>
<line x1="832.2" y1="761.5" x2="840.8" y2="761.5" stroke="#1b9db3" stroke-width="1.3"/>
<line x1="876.1" y1="757.8" x2="876.1" y2="750.0" stroke="#1b9db3" stroke-width="1.3"/>
<line x1="871.8" y1="750.0" x2="880.4" y2="750.0" stroke="#1b9db3" stroke-width="1.3"/>
<line x1="915.4" y1="749.7" x2="915.4" y2="741.4" stroke="#1b9db3" stroke-width="1.3"/>
<line x1="911.1" y1="741.4" x2="919.7" y2="741.4" stroke="#1b9db3" stroke-width="1.3"/>
<polyline points="757.3,858.7 796.9,793.0 836.5,773.6 876.1,757.8 915.4,749.7" fill="none" stroke="#1b9db3" stroke-width="1.3"/>
<circle cx="757.3" cy="858.7" r="4.8" fill="#fff" stroke="#1b9db3" stroke-width="1.3"/>
<circle cx="796.9" cy="793.0" r="4.8" fill="#fff" stroke="#1b9db3" stroke-width="1.3"/>
<circle cx="836.5" cy="773.6" r="4.8" fill="#fff" stroke="#1b9db3" stroke-width="1.3"/>
<circle cx="876.1" cy="757.8" r="4.8" fill="#fff" stroke="#1b9db3" stroke-width="1.3"/>
<circle cx="915.4" cy="749.7" r="4.8" fill="#fff" stroke="#1b9db3" stroke-width="1.3"/>
<line x1="930.3" y1="797.6" x2="930.3" y2="806.4" stroke="#000" stroke-width="1.3"/>
<text x="947.2" y="813.5" font-size="19.5" transform="rotate(-90 947.2 813.5)">ns</text>
<line x1="957.5" y1="748.4" x2="957.5" y2="796.3" stroke="#000" stroke-width="1.3"/>
<text x="980.5" y="781.0" font-size="24.5" transform="rotate(-90 980.5 781.0)">**</text>
<line x1="1055.6" y1="716.6" x2="1055.6" y2="915.8" stroke="#000" stroke-width="1.4"/>
<line x1="1054.9" y1="915.1" x2="1254.2" y2="915.1" stroke="#000" stroke-width="1.5"/>
<line x1="1050.6" y1="717.2" x2="1055.6" y2="717.2" stroke="#000" stroke-width="1.15"/>
<text x="1048.2" y="722.5" font-size="20" text-anchor="end">35</text>
<line x1="1050.6" y1="783.2" x2="1055.6" y2="783.2" stroke="#000" stroke-width="1.15"/>
<text x="1048.2" y="788.5" font-size="20" text-anchor="end">30</text>
<line x1="1050.6" y1="849.2" x2="1055.6" y2="849.2" stroke="#000" stroke-width="1.15"/>
<text x="1048.2" y="854.5" font-size="20" text-anchor="end">25</text>
<line x1="1050.6" y1="915.1" x2="1055.6" y2="915.1" stroke="#000" stroke-width="1.15"/>
<text x="1048.2" y="920.4" font-size="20" text-anchor="end">20</text>
<line x1="1075.2" y1="915.1" x2="1075.2" y2="921.1" stroke="#000" stroke-width="1.3"/>
<text x="1075.2" y="938.7" font-size="19.5" text-anchor="middle">0</text>
<line x1="1114.7" y1="915.1" x2="1114.7" y2="921.1" stroke="#000" stroke-width="1.3"/>
<text x="1114.7" y="938.7" font-size="19.5" text-anchor="middle">1</text>
<line x1="1154.4" y1="915.1" x2="1154.4" y2="921.1" stroke="#000" stroke-width="1.3"/>
<text x="1154.4" y="938.7" font-size="19.5" text-anchor="middle">2</text>
<line x1="1193.8" y1="915.1" x2="1193.8" y2="921.1" stroke="#000" stroke-width="1.3"/>
<text x="1193.8" y="938.7" font-size="19.5" text-anchor="middle">3</text>
<line x1="1233.6" y1="915.1" x2="1233.6" y2="921.1" stroke="#000" stroke-width="1.3"/>
<text x="1233.6" y="938.7" font-size="19.5" text-anchor="middle">4</text>
<text x="1154.3" y="962.0" font-size="19.7" text-anchor="middle">Week</text>
<text x="1014.5" y="810.0" font-size="20.1" text-anchor="middle" transform="rotate(-90 1014.5 810.0)">Body weight (g)</text>
<line x1="1075.2" y1="851.0" x2="1075.2" y2="840.7" stroke="#ff9d3b" stroke-width="1.3"/>
<line x1="1070.9" y1="840.7" x2="1079.5" y2="840.7" stroke="#ff9d3b" stroke-width="1.3"/>
<polyline points="1075.2,851.0 1114.7,839.5 1154.4,823.0 1193.8,812.5 1233.6,806.7" fill="none" stroke="#ff9d3b" stroke-width="1.3"/>
<rect x="1070.8" y="846.6" width="8.8" height="8.8" fill="#fff" stroke="#ff9d3b" stroke-width="1.3"/>
<rect x="1110.3" y="835.1" width="8.8" height="8.8" fill="#fff" stroke="#ff9d3b" stroke-width="1.3"/>
<rect x="1150.0" y="818.6" width="8.8" height="8.8" fill="#fff" stroke="#ff9d3b" stroke-width="1.3"/>
<rect x="1189.4" y="808.1" width="8.8" height="8.8" fill="#fff" stroke="#ff9d3b" stroke-width="1.3"/>
<rect x="1229.2" y="802.3" width="8.8" height="8.8" fill="#fff" stroke="#ff9d3b" stroke-width="1.3"/>
<polyline points="1075.2,850.2 1114.7,837.0 1154.4,821.5 1193.8,812.0 1233.6,804.7" fill="none" stroke="#a0a0a0" stroke-width="1.3"/>
<circle cx="1075.2" cy="850.2" r="4.4" fill="#fff" stroke="#a0a0a0" stroke-width="1.3"/>
<circle cx="1114.7" cy="837.0" r="4.4" fill="#fff" stroke="#a0a0a0" stroke-width="1.3"/>
<circle cx="1154.4" cy="821.5" r="4.4" fill="#fff" stroke="#a0a0a0" stroke-width="1.3"/>
<circle cx="1193.8" cy="812.0" r="4.4" fill="#fff" stroke="#a0a0a0" stroke-width="1.3"/>
<circle cx="1233.6" cy="804.7" r="4.4" fill="#fff" stroke="#a0a0a0" stroke-width="1.3"/>
<line x1="1154.4" y1="819.6" x2="1154.4" y2="812.5" stroke="#1515ff" stroke-width="1.3"/>
<line x1="1150.1" y1="812.5" x2="1158.7" y2="812.5" stroke="#1515ff" stroke-width="1.3"/>
<line x1="1193.8" y1="810.2" x2="1193.8" y2="803.0" stroke="#1515ff" stroke-width="1.3"/>
<line x1="1189.5" y1="803.0" x2="1198.1" y2="803.0" stroke="#1515ff" stroke-width="1.3"/>
<line x1="1233.6" y1="797.6" x2="1233.6" y2="790.3" stroke="#1515ff" stroke-width="1.3"/>
<line x1="1229.3" y1="790.3" x2="1237.9" y2="790.3" stroke="#1515ff" stroke-width="1.3"/>
<polyline points="1075.2,860.3 1114.7,838.2 1154.4,819.6 1193.8,810.2 1233.6,797.6" fill="none" stroke="#1515ff" stroke-width="1.3"/>
<rect x="1070.8" y="855.9" width="8.8" height="8.8" fill="#fff" stroke="#1515ff" stroke-width="1.3"/>
<rect x="1110.3" y="833.8" width="8.8" height="8.8" fill="#fff" stroke="#1515ff" stroke-width="1.3"/>
<rect x="1150.0" y="815.2" width="8.8" height="8.8" fill="#fff" stroke="#1515ff" stroke-width="1.3"/>
<rect x="1189.4" y="805.8" width="8.8" height="8.8" fill="#fff" stroke="#1515ff" stroke-width="1.3"/>
<rect x="1229.2" y="793.2" width="8.8" height="8.8" fill="#fff" stroke="#1515ff" stroke-width="1.3"/>
<line x1="1114.7" y1="814.3" x2="1114.7" y2="809.0" stroke="#1b9db3" stroke-width="1.3"/>
<line x1="1110.4" y1="809.0" x2="1119.0" y2="809.0" stroke="#1b9db3" stroke-width="1.3"/>
<line x1="1193.8" y1="754.4" x2="1193.8" y2="748.0" stroke="#1b9db3" stroke-width="1.3"/>
<line x1="1189.5" y1="748.0" x2="1198.1" y2="748.0" stroke="#1b9db3" stroke-width="1.3"/>
<polyline points="1075.2,856.0 1114.7,814.3 1154.4,785.8 1193.8,754.4 1233.6,736.0" fill="none" stroke="#1b9db3" stroke-width="1.3"/>
<circle cx="1075.2" cy="856.0" r="4.8" fill="#fff" stroke="#1b9db3" stroke-width="1.3"/>
<circle cx="1114.7" cy="814.3" r="4.8" fill="#fff" stroke="#1b9db3" stroke-width="1.3"/>
<circle cx="1154.4" cy="785.8" r="4.8" fill="#fff" stroke="#1b9db3" stroke-width="1.3"/>
<circle cx="1193.8" cy="754.4" r="4.8" fill="#fff" stroke="#1b9db3" stroke-width="1.3"/>
<circle cx="1233.6" cy="736.0" r="4.8" fill="#fff" stroke="#1b9db3" stroke-width="1.3"/>
<line x1="1246.6" y1="793.3" x2="1246.6" y2="806.7" stroke="#000" stroke-width="1.3"/>
<text x="1262.8" y="811.4" font-size="19.5" transform="rotate(-90 1262.8 811.4)">ns</text>
</svg>
</body></html>
